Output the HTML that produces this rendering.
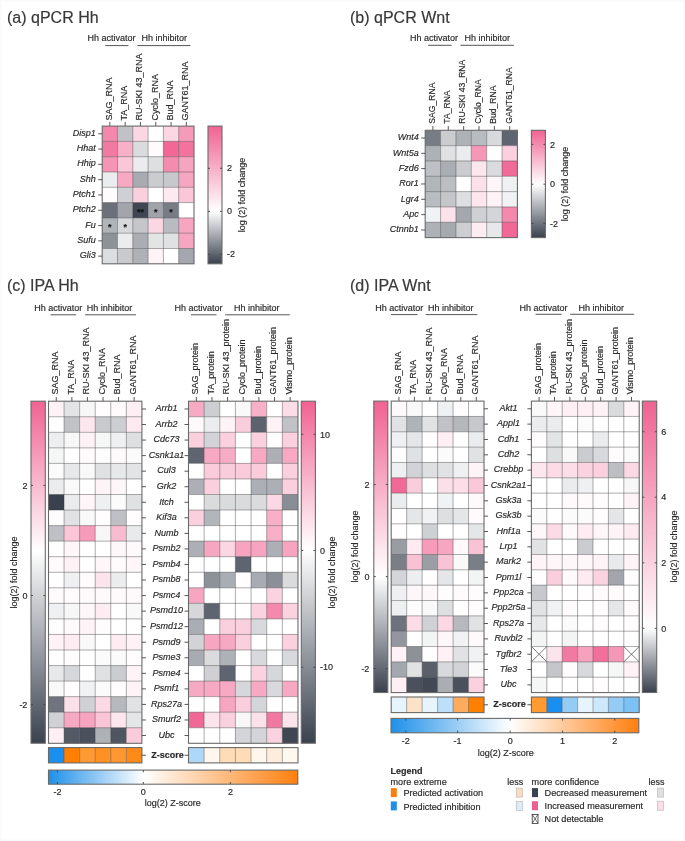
<!DOCTYPE html><html><head><meta charset="utf-8"><title>Figure</title><style>html,body{margin:0;padding:0;background:#fff;}svg{display:block;will-change:transform;}</style></head><body><svg width="685" height="841" viewBox="0 0 685 841" font-family="Liberation Sans, sans-serif" fill="#2b2b2b">
<rect x="0" y="0" width="685" height="841" fill="#ffffff"/>
<text x="7.00" y="23.00" font-size="16" fill="#383838" stroke="#383838" stroke-width="0.18">(a) qPCR Hh</text>
<text x="350.00" y="23.00" font-size="16" fill="#383838" stroke="#383838" stroke-width="0.18">(b) qPCR Wnt</text>
<text x="7.00" y="291.00" font-size="16" fill="#383838" stroke="#383838" stroke-width="0.18">(c) IPA Hh</text>
<text x="350.00" y="291.00" font-size="16" fill="#383838" stroke="#383838" stroke-width="0.18">(d) IPA Wnt</text>
<text x="87.40" y="41.40" font-size="9" stroke="#2b2b2b" stroke-width="0.18">Hh activator</text>
<text x="141.40" y="41.40" font-size="9" stroke="#2b2b2b" stroke-width="0.18">Hh inhibitor</text>
<line x1="105.30" y1="45.60" x2="128.50" y2="45.60" stroke="#555" stroke-width="1"/>
<line x1="137.30" y1="45.60" x2="190.40" y2="45.60" stroke="#555" stroke-width="1"/>
<line x1="109.85" y1="121.90" x2="109.85" y2="126.10" stroke="#444" stroke-width="0.9"/>
<text transform="translate(111.65,120.50) rotate(-90)" font-size="9" stroke="#2b2b2b" stroke-width="0.18">SAG_RNA</text>
<line x1="125.15" y1="121.90" x2="125.15" y2="126.10" stroke="#444" stroke-width="0.9"/>
<text transform="translate(126.95,120.50) rotate(-90)" font-size="9" stroke="#2b2b2b" stroke-width="0.18">TA_RNA</text>
<line x1="140.45" y1="121.90" x2="140.45" y2="126.10" stroke="#444" stroke-width="0.9"/>
<text transform="translate(142.25,120.50) rotate(-90)" font-size="9" stroke="#2b2b2b" stroke-width="0.18">RU-SKI 43_RNA</text>
<line x1="155.75" y1="121.90" x2="155.75" y2="126.10" stroke="#444" stroke-width="0.9"/>
<text transform="translate(157.55,120.50) rotate(-90)" font-size="9" stroke="#2b2b2b" stroke-width="0.18">Cyclo_RNA</text>
<line x1="171.05" y1="121.90" x2="171.05" y2="126.10" stroke="#444" stroke-width="0.9"/>
<text transform="translate(172.85,120.50) rotate(-90)" font-size="9" stroke="#2b2b2b" stroke-width="0.18">Bud_RNA</text>
<line x1="186.35" y1="121.90" x2="186.35" y2="126.10" stroke="#444" stroke-width="0.9"/>
<text transform="translate(188.15,120.50) rotate(-90)" font-size="9" stroke="#2b2b2b" stroke-width="0.18">GANT61_RNA</text>
<rect x="102.20" y="126.10" width="15.35" height="15.35" fill="#f488ac"/>
<rect x="117.50" y="126.10" width="15.35" height="15.35" fill="#c0c2c6"/>
<rect x="132.80" y="126.10" width="15.35" height="15.35" fill="#fbd6e3"/>
<rect x="148.10" y="126.10" width="15.35" height="15.35" fill="#ffffff"/>
<rect x="163.40" y="126.10" width="15.35" height="15.35" fill="#fbd6e3"/>
<rect x="178.70" y="126.10" width="15.35" height="15.35" fill="#f59bb9"/>
<rect x="102.20" y="141.40" width="15.35" height="15.35" fill="#f27aa2"/>
<rect x="117.50" y="141.40" width="15.35" height="15.35" fill="#f8b0c8"/>
<rect x="132.80" y="141.40" width="15.35" height="15.35" fill="#dadbdd"/>
<rect x="148.10" y="141.40" width="15.35" height="15.35" fill="#fffafc"/>
<rect x="163.40" y="141.40" width="15.35" height="15.35" fill="#f16896"/>
<rect x="178.70" y="141.40" width="15.35" height="15.35" fill="#f2739e"/>
<rect x="102.20" y="156.70" width="15.35" height="15.35" fill="#f594b5"/>
<rect x="117.50" y="156.70" width="15.35" height="15.35" fill="#fac6d8"/>
<rect x="132.80" y="156.70" width="15.35" height="15.35" fill="#ebeced"/>
<rect x="148.10" y="156.70" width="15.35" height="15.35" fill="#dedfe1"/>
<rect x="163.40" y="156.70" width="15.35" height="15.35" fill="#f48caf"/>
<rect x="178.70" y="156.70" width="15.35" height="15.35" fill="#f6a4c0"/>
<rect x="102.20" y="172.00" width="15.35" height="15.35" fill="#ebeced"/>
<rect x="117.50" y="172.00" width="15.35" height="15.35" fill="#f7a9c3"/>
<rect x="132.80" y="172.00" width="15.35" height="15.35" fill="#a8abb1"/>
<rect x="148.10" y="172.00" width="15.35" height="15.35" fill="#cacccf"/>
<rect x="163.40" y="172.00" width="15.35" height="15.35" fill="#c6c8cc"/>
<rect x="178.70" y="172.00" width="15.35" height="15.35" fill="#f6a6c1"/>
<rect x="102.20" y="187.30" width="15.35" height="15.35" fill="#fffcfd"/>
<rect x="117.50" y="187.30" width="15.35" height="15.35" fill="#ced0d3"/>
<rect x="132.80" y="187.30" width="15.35" height="15.35" fill="#fad0de"/>
<rect x="148.10" y="187.30" width="15.35" height="15.35" fill="#ffffff"/>
<rect x="163.40" y="187.30" width="15.35" height="15.35" fill="#fde9f0"/>
<rect x="178.70" y="187.30" width="15.35" height="15.35" fill="#fac6d8"/>
<rect x="102.20" y="202.60" width="15.35" height="15.35" fill="#6b707a"/>
<rect x="117.50" y="202.60" width="15.35" height="15.35" fill="#a2a6ac"/>
<rect x="132.80" y="202.60" width="15.35" height="15.35" fill="#404753"/>
<rect x="148.10" y="202.60" width="15.35" height="15.35" fill="#a0a4aa"/>
<rect x="163.40" y="202.60" width="15.35" height="15.35" fill="#777c85"/>
<rect x="178.70" y="202.60" width="15.35" height="15.35" fill="#ffffff"/>
<rect x="102.20" y="217.90" width="15.35" height="15.35" fill="#b0b3b8"/>
<rect x="117.50" y="217.90" width="15.35" height="15.35" fill="#d8d9dc"/>
<rect x="132.80" y="217.90" width="15.35" height="15.35" fill="#c4c6ca"/>
<rect x="148.10" y="217.90" width="15.35" height="15.35" fill="#fbd6e3"/>
<rect x="163.40" y="217.90" width="15.35" height="15.35" fill="#b8bbbf"/>
<rect x="178.70" y="217.90" width="15.35" height="15.35" fill="#f6a6c1"/>
<rect x="102.20" y="233.20" width="15.35" height="15.35" fill="#8d9198"/>
<rect x="117.50" y="233.20" width="15.35" height="15.35" fill="#ebeced"/>
<rect x="132.80" y="233.20" width="15.35" height="15.35" fill="#aaadb3"/>
<rect x="148.10" y="233.20" width="15.35" height="15.35" fill="#e3e4e6"/>
<rect x="163.40" y="233.20" width="15.35" height="15.35" fill="#dfe1e3"/>
<rect x="178.70" y="233.20" width="15.35" height="15.35" fill="#f6a6c1"/>
<rect x="102.20" y="248.50" width="15.35" height="15.35" fill="#dcdddf"/>
<rect x="117.50" y="248.50" width="15.35" height="15.35" fill="#c8cacd"/>
<rect x="132.80" y="248.50" width="15.35" height="15.35" fill="#aeb1b6"/>
<rect x="148.10" y="248.50" width="15.35" height="15.35" fill="#fef4f7"/>
<rect x="163.40" y="248.50" width="15.35" height="15.35" fill="#ffffff"/>
<rect x="178.70" y="248.50" width="15.35" height="15.35" fill="#a4a8ae"/>
<line x1="117.50" y1="126.10" x2="117.50" y2="263.80" stroke="rgba(60,60,60,0.42)" stroke-width="1"/>
<line x1="132.80" y1="126.10" x2="132.80" y2="263.80" stroke="rgba(60,60,60,0.42)" stroke-width="1"/>
<line x1="148.10" y1="126.10" x2="148.10" y2="263.80" stroke="rgba(60,60,60,0.42)" stroke-width="1"/>
<line x1="163.40" y1="126.10" x2="163.40" y2="263.80" stroke="rgba(60,60,60,0.42)" stroke-width="1"/>
<line x1="178.70" y1="126.10" x2="178.70" y2="263.80" stroke="rgba(60,60,60,0.42)" stroke-width="1"/>
<line x1="102.20" y1="141.40" x2="194.00" y2="141.40" stroke="rgba(60,60,60,0.42)" stroke-width="1"/>
<line x1="102.20" y1="156.70" x2="194.00" y2="156.70" stroke="rgba(60,60,60,0.42)" stroke-width="1"/>
<line x1="102.20" y1="172.00" x2="194.00" y2="172.00" stroke="rgba(60,60,60,0.42)" stroke-width="1"/>
<line x1="102.20" y1="187.30" x2="194.00" y2="187.30" stroke="rgba(60,60,60,0.42)" stroke-width="1"/>
<line x1="102.20" y1="202.60" x2="194.00" y2="202.60" stroke="rgba(60,60,60,0.42)" stroke-width="1"/>
<line x1="102.20" y1="217.90" x2="194.00" y2="217.90" stroke="rgba(60,60,60,0.42)" stroke-width="1"/>
<line x1="102.20" y1="233.20" x2="194.00" y2="233.20" stroke="rgba(60,60,60,0.42)" stroke-width="1"/>
<line x1="102.20" y1="248.50" x2="194.00" y2="248.50" stroke="rgba(60,60,60,0.42)" stroke-width="1"/>
<text x="140.45" y="214.75" font-size="9" text-anchor="middle" font-weight="bold" fill="#111" stroke="#111" stroke-width="0.18">**</text>
<text x="155.75" y="214.75" font-size="9" text-anchor="middle" font-weight="bold" fill="#111" stroke="#111" stroke-width="0.18">*</text>
<text x="171.05" y="214.75" font-size="9" text-anchor="middle" font-weight="bold" fill="#111" stroke="#111" stroke-width="0.18">*</text>
<text x="109.85" y="230.05" font-size="9" text-anchor="middle" font-weight="bold" fill="#111" stroke="#111" stroke-width="0.18">*</text>
<text x="125.15" y="230.05" font-size="9" text-anchor="middle" font-weight="bold" fill="#111" stroke="#111" stroke-width="0.18">*</text>
<rect x="102.20" y="126.10" width="91.80" height="137.70" fill="none" stroke="#6a6a6a" stroke-width="1.1"/>
<line x1="98.20" y1="133.75" x2="102.20" y2="133.75" stroke="#444" stroke-width="0.9"/>
<line x1="98.20" y1="149.05" x2="102.20" y2="149.05" stroke="#444" stroke-width="0.9"/>
<line x1="98.20" y1="164.35" x2="102.20" y2="164.35" stroke="#444" stroke-width="0.9"/>
<line x1="98.20" y1="179.65" x2="102.20" y2="179.65" stroke="#444" stroke-width="0.9"/>
<line x1="98.20" y1="194.95" x2="102.20" y2="194.95" stroke="#444" stroke-width="0.9"/>
<line x1="98.20" y1="210.25" x2="102.20" y2="210.25" stroke="#444" stroke-width="0.9"/>
<line x1="98.20" y1="225.55" x2="102.20" y2="225.55" stroke="#444" stroke-width="0.9"/>
<line x1="98.20" y1="240.85" x2="102.20" y2="240.85" stroke="#444" stroke-width="0.9"/>
<line x1="98.20" y1="256.15" x2="102.20" y2="256.15" stroke="#444" stroke-width="0.9"/>
<text x="95.70" y="135.75" font-size="9" text-anchor="end" font-style="italic" stroke="#2b2b2b" stroke-width="0.18">Disp1</text>
<text x="95.70" y="151.05" font-size="9" text-anchor="end" font-style="italic" stroke="#2b2b2b" stroke-width="0.18">Hhat</text>
<text x="95.70" y="166.35" font-size="9" text-anchor="end" font-style="italic" stroke="#2b2b2b" stroke-width="0.18">Hhip</text>
<text x="95.70" y="181.65" font-size="9" text-anchor="end" font-style="italic" stroke="#2b2b2b" stroke-width="0.18">Shh</text>
<text x="95.70" y="196.95" font-size="9" text-anchor="end" font-style="italic" stroke="#2b2b2b" stroke-width="0.18">Ptch1</text>
<text x="95.70" y="212.25" font-size="9" text-anchor="end" font-style="italic" stroke="#2b2b2b" stroke-width="0.18">Ptch2</text>
<text x="95.70" y="227.55" font-size="9" text-anchor="end" font-style="italic" stroke="#2b2b2b" stroke-width="0.18">Fu</text>
<text x="95.70" y="242.85" font-size="9" text-anchor="end" font-style="italic" stroke="#2b2b2b" stroke-width="0.18">Sufu</text>
<text x="95.70" y="258.15" font-size="9" text-anchor="end" font-style="italic" stroke="#2b2b2b" stroke-width="0.18">Gli3</text>
<defs><linearGradient id="g1" x1="0" y1="0" x2="0" y2="1"><stop offset="0" stop-color="#f06292"/><stop offset="0.6200" stop-color="#ffffff"/><stop offset="1" stop-color="#3a414e"/></linearGradient></defs>
<rect x="208.00" y="126.10" width="14.00" height="137.70" fill="url(#g1)" stroke="#6a6a6a" stroke-width="1.1"/>
<line x1="208.00" y1="168.30" x2="210.00" y2="168.30" stroke="#444" stroke-width="0.9"/>
<line x1="220.00" y1="168.30" x2="222.00" y2="168.30" stroke="#444" stroke-width="0.9"/>
<line x1="208.00" y1="211.40" x2="210.00" y2="211.40" stroke="#444" stroke-width="0.9"/>
<line x1="220.00" y1="211.40" x2="222.00" y2="211.40" stroke="#444" stroke-width="0.9"/>
<line x1="208.00" y1="254.40" x2="210.00" y2="254.40" stroke="#444" stroke-width="0.9"/>
<line x1="220.00" y1="254.40" x2="222.00" y2="254.40" stroke="#444" stroke-width="0.9"/>
<text x="227.00" y="171.30" font-size="9" stroke="#2b2b2b" stroke-width="0.18">2</text>
<text x="227.00" y="214.40" font-size="9" stroke="#2b2b2b" stroke-width="0.18">0</text>
<text x="227.00" y="257.40" font-size="9" stroke="#2b2b2b" stroke-width="0.18">-2</text>
<text transform="translate(244.60,195.00) rotate(-90)" font-size="9" text-anchor="middle" stroke="#2b2b2b" stroke-width="0.18">log (2) fold change</text>
<text x="409.90" y="41.00" font-size="9" stroke="#2b2b2b" stroke-width="0.18">Hh activator</text>
<text x="464.50" y="41.00" font-size="9" stroke="#2b2b2b" stroke-width="0.18">Hh inhibitor</text>
<line x1="428.10" y1="45.30" x2="451.60" y2="45.30" stroke="#555" stroke-width="1"/>
<line x1="460.40" y1="45.30" x2="513.90" y2="45.30" stroke="#555" stroke-width="1"/>
<line x1="432.88" y1="126.10" x2="432.88" y2="130.30" stroke="#444" stroke-width="0.9"/>
<text transform="translate(434.69,123.70) rotate(-90)" font-size="8.6" stroke="#2b2b2b" stroke-width="0.18">SAG_RNA</text>
<line x1="448.25" y1="126.10" x2="448.25" y2="130.30" stroke="#444" stroke-width="0.9"/>
<text transform="translate(450.06,123.70) rotate(-90)" font-size="8.6" stroke="#2b2b2b" stroke-width="0.18">TA_RNA</text>
<line x1="463.62" y1="126.10" x2="463.62" y2="130.30" stroke="#444" stroke-width="0.9"/>
<text transform="translate(465.43,123.70) rotate(-90)" font-size="8.6" stroke="#2b2b2b" stroke-width="0.18">RU-SKI 43_RNA</text>
<line x1="479.00" y1="126.10" x2="479.00" y2="130.30" stroke="#444" stroke-width="0.9"/>
<text transform="translate(480.80,123.70) rotate(-90)" font-size="8.6" stroke="#2b2b2b" stroke-width="0.18">Cyclo_RNA</text>
<line x1="494.37" y1="126.10" x2="494.37" y2="130.30" stroke="#444" stroke-width="0.9"/>
<text transform="translate(496.17,123.70) rotate(-90)" font-size="8.6" stroke="#2b2b2b" stroke-width="0.18">Bud_RNA</text>
<line x1="509.74" y1="126.10" x2="509.74" y2="130.30" stroke="#444" stroke-width="0.9"/>
<text transform="translate(511.54,123.70) rotate(-90)" font-size="8.6" stroke="#2b2b2b" stroke-width="0.18">GANT61_RNA</text>
<rect x="425.20" y="130.30" width="15.42" height="15.38" fill="#777c85"/>
<rect x="440.57" y="130.30" width="15.42" height="15.38" fill="#cacccf"/>
<rect x="455.94" y="130.30" width="15.42" height="15.38" fill="#aeb1b6"/>
<rect x="471.31" y="130.30" width="15.42" height="15.38" fill="#b8bbbf"/>
<rect x="486.68" y="130.30" width="15.42" height="15.38" fill="#d8d9dc"/>
<rect x="502.05" y="130.30" width="15.42" height="15.38" fill="#5f6570"/>
<rect x="425.20" y="145.63" width="15.42" height="15.38" fill="#aeb1b6"/>
<rect x="440.57" y="145.63" width="15.42" height="15.38" fill="#dfe1e3"/>
<rect x="455.94" y="145.63" width="15.42" height="15.38" fill="#ebeced"/>
<rect x="471.31" y="145.63" width="15.42" height="15.38" fill="#f597b7"/>
<rect x="486.68" y="145.63" width="15.42" height="15.38" fill="#ffffff"/>
<rect x="502.05" y="145.63" width="15.42" height="15.38" fill="#fad0de"/>
<rect x="425.20" y="160.96" width="15.42" height="15.38" fill="#bec0c5"/>
<rect x="440.57" y="160.96" width="15.42" height="15.38" fill="#aaadb3"/>
<rect x="455.94" y="160.96" width="15.42" height="15.38" fill="#cacccf"/>
<rect x="471.31" y="160.96" width="15.42" height="15.38" fill="#fde7ef"/>
<rect x="486.68" y="160.96" width="15.42" height="15.38" fill="#dadbdd"/>
<rect x="502.05" y="160.96" width="15.42" height="15.38" fill="#f16b99"/>
<rect x="425.20" y="176.29" width="15.42" height="15.38" fill="#b2b5ba"/>
<rect x="440.57" y="176.29" width="15.42" height="15.38" fill="#bcbec3"/>
<rect x="455.94" y="176.29" width="15.42" height="15.38" fill="#ffffff"/>
<rect x="471.31" y="176.29" width="15.42" height="15.38" fill="#fce1ea"/>
<rect x="486.68" y="176.29" width="15.42" height="15.38" fill="#fef7fa"/>
<rect x="502.05" y="176.29" width="15.42" height="15.38" fill="#eff0f1"/>
<rect x="425.20" y="191.62" width="15.42" height="15.38" fill="#b8bbbf"/>
<rect x="440.57" y="191.62" width="15.42" height="15.38" fill="#c4c6ca"/>
<rect x="455.94" y="191.62" width="15.42" height="15.38" fill="#dedfe1"/>
<rect x="471.31" y="191.62" width="15.42" height="15.38" fill="#fde6ee"/>
<rect x="486.68" y="191.62" width="15.42" height="15.38" fill="#fef4f7"/>
<rect x="502.05" y="191.62" width="15.42" height="15.38" fill="#f1f2f3"/>
<rect x="425.20" y="206.95" width="15.42" height="15.38" fill="#f1f2f3"/>
<rect x="440.57" y="206.95" width="15.42" height="15.38" fill="#fce3eb"/>
<rect x="455.94" y="206.95" width="15.42" height="15.38" fill="#a4a8ae"/>
<rect x="471.31" y="206.95" width="15.42" height="15.38" fill="#ced0d3"/>
<rect x="486.68" y="206.95" width="15.42" height="15.38" fill="#d4d5d8"/>
<rect x="502.05" y="206.95" width="15.42" height="15.38" fill="#f489ad"/>
<rect x="425.20" y="222.28" width="15.42" height="15.38" fill="#aeb1b6"/>
<rect x="440.57" y="222.28" width="15.42" height="15.38" fill="#a6aaaf"/>
<rect x="455.94" y="222.28" width="15.42" height="15.38" fill="#ccced1"/>
<rect x="471.31" y="222.28" width="15.42" height="15.38" fill="#fdecf2"/>
<rect x="486.68" y="222.28" width="15.42" height="15.38" fill="#e7e8ea"/>
<rect x="502.05" y="222.28" width="15.42" height="15.38" fill="#f16896"/>
<line x1="440.57" y1="130.30" x2="440.57" y2="237.61" stroke="rgba(60,60,60,0.42)" stroke-width="1"/>
<line x1="455.94" y1="130.30" x2="455.94" y2="237.61" stroke="rgba(60,60,60,0.42)" stroke-width="1"/>
<line x1="471.31" y1="130.30" x2="471.31" y2="237.61" stroke="rgba(60,60,60,0.42)" stroke-width="1"/>
<line x1="486.68" y1="130.30" x2="486.68" y2="237.61" stroke="rgba(60,60,60,0.42)" stroke-width="1"/>
<line x1="502.05" y1="130.30" x2="502.05" y2="237.61" stroke="rgba(60,60,60,0.42)" stroke-width="1"/>
<line x1="425.20" y1="145.63" x2="517.42" y2="145.63" stroke="rgba(60,60,60,0.42)" stroke-width="1"/>
<line x1="425.20" y1="160.96" x2="517.42" y2="160.96" stroke="rgba(60,60,60,0.42)" stroke-width="1"/>
<line x1="425.20" y1="176.29" x2="517.42" y2="176.29" stroke="rgba(60,60,60,0.42)" stroke-width="1"/>
<line x1="425.20" y1="191.62" x2="517.42" y2="191.62" stroke="rgba(60,60,60,0.42)" stroke-width="1"/>
<line x1="425.20" y1="206.95" x2="517.42" y2="206.95" stroke="rgba(60,60,60,0.42)" stroke-width="1"/>
<line x1="425.20" y1="222.28" x2="517.42" y2="222.28" stroke="rgba(60,60,60,0.42)" stroke-width="1"/>
<rect x="425.20" y="130.30" width="92.22" height="107.31" fill="none" stroke="#6a6a6a" stroke-width="1.1"/>
<line x1="421.20" y1="137.97" x2="425.20" y2="137.97" stroke="#444" stroke-width="0.9"/>
<line x1="421.20" y1="153.30" x2="425.20" y2="153.30" stroke="#444" stroke-width="0.9"/>
<line x1="421.20" y1="168.62" x2="425.20" y2="168.62" stroke="#444" stroke-width="0.9"/>
<line x1="421.20" y1="183.96" x2="425.20" y2="183.96" stroke="#444" stroke-width="0.9"/>
<line x1="421.20" y1="199.29" x2="425.20" y2="199.29" stroke="#444" stroke-width="0.9"/>
<line x1="421.20" y1="214.62" x2="425.20" y2="214.62" stroke="#444" stroke-width="0.9"/>
<line x1="421.20" y1="229.94" x2="425.20" y2="229.94" stroke="#444" stroke-width="0.9"/>
<text x="418.70" y="140.37" font-size="9" text-anchor="end" font-style="italic" stroke="#2b2b2b" stroke-width="0.18">Wnt4</text>
<text x="418.70" y="155.70" font-size="9" text-anchor="end" font-style="italic" stroke="#2b2b2b" stroke-width="0.18">Wnt5a</text>
<text x="418.70" y="171.03" font-size="9" text-anchor="end" font-style="italic" stroke="#2b2b2b" stroke-width="0.18">Fzd6</text>
<text x="418.70" y="186.36" font-size="9" text-anchor="end" font-style="italic" stroke="#2b2b2b" stroke-width="0.18">Ror1</text>
<text x="418.70" y="201.69" font-size="9" text-anchor="end" font-style="italic" stroke="#2b2b2b" stroke-width="0.18">Lgr4</text>
<text x="418.70" y="217.02" font-size="9" text-anchor="end" font-style="italic" stroke="#2b2b2b" stroke-width="0.18">Apc</text>
<text x="418.70" y="232.34" font-size="9" text-anchor="end" font-style="italic" stroke="#2b2b2b" stroke-width="0.18">Ctnnb1</text>
<defs><linearGradient id="g2" x1="0" y1="0" x2="0" y2="1"><stop offset="0" stop-color="#f06292"/><stop offset="0.5042" stop-color="#ffffff"/><stop offset="1" stop-color="#3a414e"/></linearGradient></defs>
<rect x="531.40" y="130.30" width="14.00" height="107.30" fill="url(#g2)" stroke="#6a6a6a" stroke-width="1.1"/>
<line x1="531.40" y1="144.40" x2="533.40" y2="144.40" stroke="#444" stroke-width="0.9"/>
<line x1="543.40" y1="144.40" x2="545.40" y2="144.40" stroke="#444" stroke-width="0.9"/>
<line x1="531.40" y1="184.20" x2="533.40" y2="184.20" stroke="#444" stroke-width="0.9"/>
<line x1="543.40" y1="184.20" x2="545.40" y2="184.20" stroke="#444" stroke-width="0.9"/>
<line x1="531.40" y1="223.40" x2="533.40" y2="223.40" stroke="#444" stroke-width="0.9"/>
<line x1="543.40" y1="223.40" x2="545.40" y2="223.40" stroke="#444" stroke-width="0.9"/>
<text x="550.10" y="147.80" font-size="9" stroke="#2b2b2b" stroke-width="0.18">2</text>
<text x="550.10" y="187.30" font-size="9" stroke="#2b2b2b" stroke-width="0.18">0</text>
<text x="550.10" y="226.60" font-size="9" stroke="#2b2b2b" stroke-width="0.18">-2</text>
<text transform="translate(568.00,184.00) rotate(-90)" font-size="9" text-anchor="middle" stroke="#2b2b2b" stroke-width="0.18">log (2) fold change</text>
<text x="34.20" y="310.70" font-size="9" stroke="#2b2b2b" stroke-width="0.18">Hh activator</text>
<text x="86.80" y="310.70" font-size="9" stroke="#2b2b2b" stroke-width="0.18">Hh inhibitor</text>
<line x1="50.60" y1="314.80" x2="76.20" y2="314.80" stroke="#555" stroke-width="1"/>
<line x1="85.10" y1="314.80" x2="136.00" y2="314.80" stroke="#555" stroke-width="1"/>
<text x="174.50" y="310.70" font-size="9" stroke="#2b2b2b" stroke-width="0.18">Hh activator</text>
<text x="234.00" y="310.70" font-size="9" stroke="#2b2b2b" stroke-width="0.18">Hh inhibitor</text>
<line x1="191.00" y1="314.80" x2="216.50" y2="314.80" stroke="#555" stroke-width="1"/>
<line x1="225.30" y1="314.80" x2="289.80" y2="314.80" stroke="#555" stroke-width="1"/>
<line x1="56.28" y1="397.00" x2="56.28" y2="401.20" stroke="#444" stroke-width="0.9"/>
<text transform="translate(58.08,394.60) rotate(-90)" font-size="9" stroke="#2b2b2b" stroke-width="0.18">SAG_RNA</text>
<line x1="71.86" y1="397.00" x2="71.86" y2="401.20" stroke="#444" stroke-width="0.9"/>
<text transform="translate(73.66,394.60) rotate(-90)" font-size="9" stroke="#2b2b2b" stroke-width="0.18">TA_RNA</text>
<line x1="87.42" y1="397.00" x2="87.42" y2="401.20" stroke="#444" stroke-width="0.9"/>
<text transform="translate(89.22,394.60) rotate(-90)" font-size="9" stroke="#2b2b2b" stroke-width="0.18">RU-SKI 43_RNA</text>
<line x1="103.00" y1="397.00" x2="103.00" y2="401.20" stroke="#444" stroke-width="0.9"/>
<text transform="translate(104.80,394.60) rotate(-90)" font-size="9" stroke="#2b2b2b" stroke-width="0.18">Cyclo_RNA</text>
<line x1="118.56" y1="397.00" x2="118.56" y2="401.20" stroke="#444" stroke-width="0.9"/>
<text transform="translate(120.36,394.60) rotate(-90)" font-size="9" stroke="#2b2b2b" stroke-width="0.18">Bud_RNA</text>
<line x1="134.13" y1="397.00" x2="134.13" y2="401.20" stroke="#444" stroke-width="0.9"/>
<text transform="translate(135.94,394.60) rotate(-90)" font-size="9" stroke="#2b2b2b" stroke-width="0.18">GANT61_RNA</text>
<line x1="196.32" y1="397.00" x2="196.32" y2="401.20" stroke="#444" stroke-width="0.9"/>
<text transform="translate(198.12,394.60) rotate(-90)" font-size="9" stroke="#2b2b2b" stroke-width="0.18">SAG_protein</text>
<line x1="211.96" y1="397.00" x2="211.96" y2="401.20" stroke="#444" stroke-width="0.9"/>
<text transform="translate(213.76,394.60) rotate(-90)" font-size="9" stroke="#2b2b2b" stroke-width="0.18">TA_protein</text>
<line x1="227.60" y1="397.00" x2="227.60" y2="401.20" stroke="#444" stroke-width="0.9"/>
<text transform="translate(229.40,394.60) rotate(-90)" font-size="9" stroke="#2b2b2b" stroke-width="0.18">RU-SKI 43_protein</text>
<line x1="243.24" y1="397.00" x2="243.24" y2="401.20" stroke="#444" stroke-width="0.9"/>
<text transform="translate(245.04,394.60) rotate(-90)" font-size="9" stroke="#2b2b2b" stroke-width="0.18">Cyclo_protein</text>
<line x1="258.88" y1="397.00" x2="258.88" y2="401.20" stroke="#444" stroke-width="0.9"/>
<text transform="translate(260.68,394.60) rotate(-90)" font-size="9" stroke="#2b2b2b" stroke-width="0.18">Bud_protein</text>
<line x1="274.52" y1="397.00" x2="274.52" y2="401.20" stroke="#444" stroke-width="0.9"/>
<text transform="translate(276.32,394.60) rotate(-90)" font-size="9" stroke="#2b2b2b" stroke-width="0.18">GANT61_protein</text>
<line x1="290.16" y1="397.00" x2="290.16" y2="401.20" stroke="#444" stroke-width="0.9"/>
<text transform="translate(291.96,394.60) rotate(-90)" font-size="9" stroke="#2b2b2b" stroke-width="0.18">Vismo_protein</text>
<rect x="48.50" y="401.20" width="15.62" height="15.60" fill="#fef2f6"/>
<rect x="64.07" y="401.20" width="15.62" height="15.60" fill="#e3e4e6"/>
<rect x="79.64" y="401.20" width="15.62" height="15.60" fill="#f7f7f8"/>
<rect x="95.21" y="401.20" width="15.62" height="15.60" fill="#fffdfe"/>
<rect x="110.78" y="401.20" width="15.62" height="15.60" fill="#fef9fb"/>
<rect x="126.35" y="401.20" width="15.62" height="15.60" fill="#feeff4"/>
<rect x="48.50" y="416.75" width="15.62" height="15.60" fill="#ffffff"/>
<rect x="64.07" y="416.75" width="15.62" height="15.60" fill="#c0c2c6"/>
<rect x="79.64" y="416.75" width="15.62" height="15.60" fill="#fde7ef"/>
<rect x="95.21" y="416.75" width="15.62" height="15.60" fill="#c8cacd"/>
<rect x="110.78" y="416.75" width="15.62" height="15.60" fill="#ccced1"/>
<rect x="126.35" y="416.75" width="15.62" height="15.60" fill="#fde9f0"/>
<rect x="48.50" y="432.30" width="15.62" height="15.60" fill="#edeeef"/>
<rect x="64.07" y="432.30" width="15.62" height="15.60" fill="#f7f7f8"/>
<rect x="79.64" y="432.30" width="15.62" height="15.60" fill="#fef2f6"/>
<rect x="95.21" y="432.30" width="15.62" height="15.60" fill="#f5f6f6"/>
<rect x="110.78" y="432.30" width="15.62" height="15.60" fill="#eff0f1"/>
<rect x="126.35" y="432.30" width="15.62" height="15.60" fill="#dedfe1"/>
<rect x="48.50" y="447.85" width="15.62" height="15.60" fill="#f5f6f6"/>
<rect x="64.07" y="447.85" width="15.62" height="15.60" fill="#ffffff"/>
<rect x="79.64" y="447.85" width="15.62" height="15.60" fill="#fffafc"/>
<rect x="95.21" y="447.85" width="15.62" height="15.60" fill="#fdfdfd"/>
<rect x="110.78" y="447.85" width="15.62" height="15.60" fill="#fef9fb"/>
<rect x="126.35" y="447.85" width="15.62" height="15.60" fill="#fbfbfb"/>
<rect x="48.50" y="463.40" width="15.62" height="15.60" fill="#fbfbfb"/>
<rect x="64.07" y="463.40" width="15.62" height="15.60" fill="#e7e8ea"/>
<rect x="79.64" y="463.40" width="15.62" height="15.60" fill="#f9f9fa"/>
<rect x="95.21" y="463.40" width="15.62" height="15.60" fill="#dfe1e3"/>
<rect x="110.78" y="463.40" width="15.62" height="15.60" fill="#e7e8ea"/>
<rect x="126.35" y="463.40" width="15.62" height="15.60" fill="#e3e4e6"/>
<rect x="48.50" y="478.95" width="15.62" height="15.60" fill="#ebeced"/>
<rect x="64.07" y="478.95" width="15.62" height="15.60" fill="#f9f9fa"/>
<rect x="79.64" y="478.95" width="15.62" height="15.60" fill="#ffffff"/>
<rect x="95.21" y="478.95" width="15.62" height="15.60" fill="#fef4f7"/>
<rect x="110.78" y="478.95" width="15.62" height="15.60" fill="#fef7fa"/>
<rect x="126.35" y="478.95" width="15.62" height="15.60" fill="#ffffff"/>
<rect x="48.50" y="494.50" width="15.62" height="15.60" fill="#3a414e"/>
<rect x="64.07" y="494.50" width="15.62" height="15.60" fill="#ebeced"/>
<rect x="79.64" y="494.50" width="15.62" height="15.60" fill="#fef6f8"/>
<rect x="95.21" y="494.50" width="15.62" height="15.60" fill="#eff0f1"/>
<rect x="110.78" y="494.50" width="15.62" height="15.60" fill="#fbfbfb"/>
<rect x="126.35" y="494.50" width="15.62" height="15.60" fill="#dfe1e3"/>
<rect x="48.50" y="510.05" width="15.62" height="15.60" fill="#fffdfe"/>
<rect x="64.07" y="510.05" width="15.62" height="15.60" fill="#e1e2e4"/>
<rect x="79.64" y="510.05" width="15.62" height="15.60" fill="#f9f9fa"/>
<rect x="95.21" y="510.05" width="15.62" height="15.60" fill="#fffdfe"/>
<rect x="110.78" y="510.05" width="15.62" height="15.60" fill="#bec0c5"/>
<rect x="126.35" y="510.05" width="15.62" height="15.60" fill="#fffdfe"/>
<rect x="48.50" y="525.60" width="15.62" height="15.60" fill="#bec0c5"/>
<rect x="64.07" y="525.60" width="15.62" height="15.60" fill="#fac6d8"/>
<rect x="79.64" y="525.60" width="15.62" height="15.60" fill="#f69cba"/>
<rect x="95.21" y="525.60" width="15.62" height="15.60" fill="#f7f7f8"/>
<rect x="110.78" y="525.60" width="15.62" height="15.60" fill="#f9bbd0"/>
<rect x="126.35" y="525.60" width="15.62" height="15.60" fill="#e9eaec"/>
<rect x="48.50" y="541.15" width="15.62" height="15.60" fill="#ffffff"/>
<rect x="64.07" y="541.15" width="15.62" height="15.60" fill="#fef6f8"/>
<rect x="79.64" y="541.15" width="15.62" height="15.60" fill="#ffffff"/>
<rect x="95.21" y="541.15" width="15.62" height="15.60" fill="#ffffff"/>
<rect x="110.78" y="541.15" width="15.62" height="15.60" fill="#fef7fa"/>
<rect x="126.35" y="541.15" width="15.62" height="15.60" fill="#fef9fb"/>
<rect x="48.50" y="556.70" width="15.62" height="15.60" fill="#fffafc"/>
<rect x="64.07" y="556.70" width="15.62" height="15.60" fill="#fef1f5"/>
<rect x="79.64" y="556.70" width="15.62" height="15.60" fill="#ffffff"/>
<rect x="95.21" y="556.70" width="15.62" height="15.60" fill="#fef6f8"/>
<rect x="110.78" y="556.70" width="15.62" height="15.60" fill="#fffafc"/>
<rect x="126.35" y="556.70" width="15.62" height="15.60" fill="#fef6f8"/>
<rect x="48.50" y="572.25" width="15.62" height="15.60" fill="#ffffff"/>
<rect x="64.07" y="572.25" width="15.62" height="15.60" fill="#eff0f1"/>
<rect x="79.64" y="572.25" width="15.62" height="15.60" fill="#fffafc"/>
<rect x="95.21" y="572.25" width="15.62" height="15.60" fill="#fce4ec"/>
<rect x="110.78" y="572.25" width="15.62" height="15.60" fill="#ebeced"/>
<rect x="126.35" y="572.25" width="15.62" height="15.60" fill="#ffffff"/>
<rect x="48.50" y="587.80" width="15.62" height="15.60" fill="#fffafc"/>
<rect x="64.07" y="587.80" width="15.62" height="15.60" fill="#fffafc"/>
<rect x="79.64" y="587.80" width="15.62" height="15.60" fill="#fef9fb"/>
<rect x="95.21" y="587.80" width="15.62" height="15.60" fill="#fef9fb"/>
<rect x="110.78" y="587.80" width="15.62" height="15.60" fill="#fef9fb"/>
<rect x="126.35" y="587.80" width="15.62" height="15.60" fill="#fef9fb"/>
<rect x="48.50" y="603.35" width="15.62" height="15.60" fill="#eff0f1"/>
<rect x="64.07" y="603.35" width="15.62" height="15.60" fill="#f7f7f8"/>
<rect x="79.64" y="603.35" width="15.62" height="15.60" fill="#fef7fa"/>
<rect x="95.21" y="603.35" width="15.62" height="15.60" fill="#fdecf2"/>
<rect x="110.78" y="603.35" width="15.62" height="15.60" fill="#ffffff"/>
<rect x="126.35" y="603.35" width="15.62" height="15.60" fill="#f9f9fa"/>
<rect x="48.50" y="618.90" width="15.62" height="15.60" fill="#fdfdfd"/>
<rect x="64.07" y="618.90" width="15.62" height="15.60" fill="#fef9fb"/>
<rect x="79.64" y="618.90" width="15.62" height="15.60" fill="#fef4f7"/>
<rect x="95.21" y="618.90" width="15.62" height="15.60" fill="#fffcfd"/>
<rect x="110.78" y="618.90" width="15.62" height="15.60" fill="#ffffff"/>
<rect x="126.35" y="618.90" width="15.62" height="15.60" fill="#ffffff"/>
<rect x="48.50" y="634.45" width="15.62" height="15.60" fill="#fef2f6"/>
<rect x="64.07" y="634.45" width="15.62" height="15.60" fill="#fdecf2"/>
<rect x="79.64" y="634.45" width="15.62" height="15.60" fill="#f9f9fa"/>
<rect x="95.21" y="634.45" width="15.62" height="15.60" fill="#ffffff"/>
<rect x="110.78" y="634.45" width="15.62" height="15.60" fill="#fdecf2"/>
<rect x="126.35" y="634.45" width="15.62" height="15.60" fill="#fef2f6"/>
<rect x="48.50" y="650.00" width="15.62" height="15.60" fill="#ffffff"/>
<rect x="64.07" y="650.00" width="15.62" height="15.60" fill="#fffcfd"/>
<rect x="79.64" y="650.00" width="15.62" height="15.60" fill="#ffffff"/>
<rect x="95.21" y="650.00" width="15.62" height="15.60" fill="#fbfbfb"/>
<rect x="110.78" y="650.00" width="15.62" height="15.60" fill="#fbfbfb"/>
<rect x="126.35" y="650.00" width="15.62" height="15.60" fill="#fffdfe"/>
<rect x="48.50" y="665.55" width="15.62" height="15.60" fill="#e7e8ea"/>
<rect x="64.07" y="665.55" width="15.62" height="15.60" fill="#d6d7da"/>
<rect x="79.64" y="665.55" width="15.62" height="15.60" fill="#ffffff"/>
<rect x="95.21" y="665.55" width="15.62" height="15.60" fill="#dfe1e3"/>
<rect x="110.78" y="665.55" width="15.62" height="15.60" fill="#cacccf"/>
<rect x="126.35" y="665.55" width="15.62" height="15.60" fill="#fef4f7"/>
<rect x="48.50" y="681.10" width="15.62" height="15.60" fill="#f9f9fa"/>
<rect x="64.07" y="681.10" width="15.62" height="15.60" fill="#fffdfe"/>
<rect x="79.64" y="681.10" width="15.62" height="15.60" fill="#f1f2f3"/>
<rect x="95.21" y="681.10" width="15.62" height="15.60" fill="#fbfbfb"/>
<rect x="110.78" y="681.10" width="15.62" height="15.60" fill="#fffdfe"/>
<rect x="126.35" y="681.10" width="15.62" height="15.60" fill="#fef4f7"/>
<rect x="48.50" y="696.65" width="15.62" height="15.60" fill="#6f747e"/>
<rect x="64.07" y="696.65" width="15.62" height="15.60" fill="#fce0e9"/>
<rect x="79.64" y="696.65" width="15.62" height="15.60" fill="#d0d1d5"/>
<rect x="95.21" y="696.65" width="15.62" height="15.60" fill="#fbd9e5"/>
<rect x="110.78" y="696.65" width="15.62" height="15.60" fill="#b6b9be"/>
<rect x="126.35" y="696.65" width="15.62" height="15.60" fill="#e1e2e4"/>
<rect x="48.50" y="712.20" width="15.62" height="15.60" fill="#d0d1d5"/>
<rect x="64.07" y="712.20" width="15.62" height="15.60" fill="#f7a9c3"/>
<rect x="79.64" y="712.20" width="15.62" height="15.60" fill="#f6a4c0"/>
<rect x="95.21" y="712.20" width="15.62" height="15.60" fill="#f9c5d7"/>
<rect x="110.78" y="712.20" width="15.62" height="15.60" fill="#fde6ee"/>
<rect x="126.35" y="712.20" width="15.62" height="15.60" fill="#e5e6e8"/>
<rect x="48.50" y="727.75" width="15.62" height="15.60" fill="#feeff4"/>
<rect x="64.07" y="727.75" width="15.62" height="15.60" fill="#545a65"/>
<rect x="79.64" y="727.75" width="15.62" height="15.60" fill="#4a505c"/>
<rect x="95.21" y="727.75" width="15.62" height="15.60" fill="#aeb1b6"/>
<rect x="110.78" y="727.75" width="15.62" height="15.60" fill="#505661"/>
<rect x="126.35" y="727.75" width="15.62" height="15.60" fill="#facbdb"/>
<line x1="64.07" y1="401.20" x2="64.07" y2="743.30" stroke="rgba(60,60,60,0.42)" stroke-width="1"/>
<line x1="79.64" y1="401.20" x2="79.64" y2="743.30" stroke="rgba(60,60,60,0.42)" stroke-width="1"/>
<line x1="95.21" y1="401.20" x2="95.21" y2="743.30" stroke="rgba(60,60,60,0.42)" stroke-width="1"/>
<line x1="110.78" y1="401.20" x2="110.78" y2="743.30" stroke="rgba(60,60,60,0.42)" stroke-width="1"/>
<line x1="126.35" y1="401.20" x2="126.35" y2="743.30" stroke="rgba(60,60,60,0.42)" stroke-width="1"/>
<line x1="48.50" y1="416.75" x2="141.92" y2="416.75" stroke="rgba(60,60,60,0.42)" stroke-width="1"/>
<line x1="48.50" y1="432.30" x2="141.92" y2="432.30" stroke="rgba(60,60,60,0.42)" stroke-width="1"/>
<line x1="48.50" y1="447.85" x2="141.92" y2="447.85" stroke="rgba(60,60,60,0.42)" stroke-width="1"/>
<line x1="48.50" y1="463.40" x2="141.92" y2="463.40" stroke="rgba(60,60,60,0.42)" stroke-width="1"/>
<line x1="48.50" y1="478.95" x2="141.92" y2="478.95" stroke="rgba(60,60,60,0.42)" stroke-width="1"/>
<line x1="48.50" y1="494.50" x2="141.92" y2="494.50" stroke="rgba(60,60,60,0.42)" stroke-width="1"/>
<line x1="48.50" y1="510.05" x2="141.92" y2="510.05" stroke="rgba(60,60,60,0.42)" stroke-width="1"/>
<line x1="48.50" y1="525.60" x2="141.92" y2="525.60" stroke="rgba(60,60,60,0.42)" stroke-width="1"/>
<line x1="48.50" y1="541.15" x2="141.92" y2="541.15" stroke="rgba(60,60,60,0.42)" stroke-width="1"/>
<line x1="48.50" y1="556.70" x2="141.92" y2="556.70" stroke="rgba(60,60,60,0.42)" stroke-width="1"/>
<line x1="48.50" y1="572.25" x2="141.92" y2="572.25" stroke="rgba(60,60,60,0.42)" stroke-width="1"/>
<line x1="48.50" y1="587.80" x2="141.92" y2="587.80" stroke="rgba(60,60,60,0.42)" stroke-width="1"/>
<line x1="48.50" y1="603.35" x2="141.92" y2="603.35" stroke="rgba(60,60,60,0.42)" stroke-width="1"/>
<line x1="48.50" y1="618.90" x2="141.92" y2="618.90" stroke="rgba(60,60,60,0.42)" stroke-width="1"/>
<line x1="48.50" y1="634.45" x2="141.92" y2="634.45" stroke="rgba(60,60,60,0.42)" stroke-width="1"/>
<line x1="48.50" y1="650.00" x2="141.92" y2="650.00" stroke="rgba(60,60,60,0.42)" stroke-width="1"/>
<line x1="48.50" y1="665.55" x2="141.92" y2="665.55" stroke="rgba(60,60,60,0.42)" stroke-width="1"/>
<line x1="48.50" y1="681.10" x2="141.92" y2="681.10" stroke="rgba(60,60,60,0.42)" stroke-width="1"/>
<line x1="48.50" y1="696.65" x2="141.92" y2="696.65" stroke="rgba(60,60,60,0.42)" stroke-width="1"/>
<line x1="48.50" y1="712.20" x2="141.92" y2="712.20" stroke="rgba(60,60,60,0.42)" stroke-width="1"/>
<line x1="48.50" y1="727.75" x2="141.92" y2="727.75" stroke="rgba(60,60,60,0.42)" stroke-width="1"/>
<rect x="48.50" y="401.20" width="93.42" height="342.10" fill="none" stroke="#6a6a6a" stroke-width="1.1"/>
<rect x="188.50" y="401.20" width="15.69" height="15.60" fill="#f7aac4"/>
<rect x="204.14" y="401.20" width="15.69" height="15.60" fill="#ccced1"/>
<rect x="219.78" y="401.20" width="15.69" height="15.60" fill="#ffffff"/>
<rect x="235.42" y="401.20" width="15.69" height="15.60" fill="#f9f9fa"/>
<rect x="251.06" y="401.20" width="15.69" height="15.60" fill="#f8b0c8"/>
<rect x="266.70" y="401.20" width="15.69" height="15.60" fill="#ffffff"/>
<rect x="282.34" y="401.20" width="15.69" height="15.60" fill="#fcdce7"/>
<rect x="188.50" y="416.75" width="15.69" height="15.60" fill="#fef9fb"/>
<rect x="204.14" y="416.75" width="15.69" height="15.60" fill="#ebeced"/>
<rect x="219.78" y="416.75" width="15.69" height="15.60" fill="#fef4f7"/>
<rect x="235.42" y="416.75" width="15.69" height="15.60" fill="#facddc"/>
<rect x="251.06" y="416.75" width="15.69" height="15.60" fill="#5d636e"/>
<rect x="266.70" y="416.75" width="15.69" height="15.60" fill="#fef2f6"/>
<rect x="282.34" y="416.75" width="15.69" height="15.60" fill="#c0c2c6"/>
<rect x="188.50" y="432.30" width="15.69" height="15.60" fill="#fad0de"/>
<rect x="204.14" y="432.30" width="15.69" height="15.60" fill="#d2d3d6"/>
<rect x="219.78" y="432.30" width="15.69" height="15.60" fill="#fad0de"/>
<rect x="235.42" y="432.30" width="15.69" height="15.60" fill="#ffffff"/>
<rect x="251.06" y="432.30" width="15.69" height="15.60" fill="#fad0de"/>
<rect x="266.70" y="432.30" width="15.69" height="15.60" fill="#fffdfe"/>
<rect x="282.34" y="432.30" width="15.69" height="15.60" fill="#fad0de"/>
<rect x="188.50" y="447.85" width="15.69" height="15.60" fill="#5f6570"/>
<rect x="204.14" y="447.85" width="15.69" height="15.60" fill="#f7a9c3"/>
<rect x="219.78" y="447.85" width="15.69" height="15.60" fill="#f7acc5"/>
<rect x="235.42" y="447.85" width="15.69" height="15.60" fill="#ffffff"/>
<rect x="251.06" y="447.85" width="15.69" height="15.60" fill="#f7a9c3"/>
<rect x="266.70" y="447.85" width="15.69" height="15.60" fill="#acafb5"/>
<rect x="282.34" y="447.85" width="15.69" height="15.60" fill="#f7a9c3"/>
<rect x="188.50" y="463.40" width="15.69" height="15.60" fill="#ffffff"/>
<rect x="204.14" y="463.40" width="15.69" height="15.60" fill="#facbdb"/>
<rect x="219.78" y="463.40" width="15.69" height="15.60" fill="#facddc"/>
<rect x="235.42" y="463.40" width="15.69" height="15.60" fill="#facbdb"/>
<rect x="251.06" y="463.40" width="15.69" height="15.60" fill="#facbdb"/>
<rect x="266.70" y="463.40" width="15.69" height="15.60" fill="#ffffff"/>
<rect x="282.34" y="463.40" width="15.69" height="15.60" fill="#fad0de"/>
<rect x="188.50" y="478.95" width="15.69" height="15.60" fill="#acafb5"/>
<rect x="204.14" y="478.95" width="15.69" height="15.60" fill="#fad0de"/>
<rect x="219.78" y="478.95" width="15.69" height="15.60" fill="#ffffff"/>
<rect x="235.42" y="478.95" width="15.69" height="15.60" fill="#ffffff"/>
<rect x="251.06" y="478.95" width="15.69" height="15.60" fill="#acafb5"/>
<rect x="266.70" y="478.95" width="15.69" height="15.60" fill="#acafb5"/>
<rect x="282.34" y="478.95" width="15.69" height="15.60" fill="#fad0de"/>
<rect x="188.50" y="494.50" width="15.69" height="15.60" fill="#ffffff"/>
<rect x="204.14" y="494.50" width="15.69" height="15.60" fill="#dadbdd"/>
<rect x="219.78" y="494.50" width="15.69" height="15.60" fill="#dadbdd"/>
<rect x="235.42" y="494.50" width="15.69" height="15.60" fill="#dadbdd"/>
<rect x="251.06" y="494.50" width="15.69" height="15.60" fill="#dadbdd"/>
<rect x="266.70" y="494.50" width="15.69" height="15.60" fill="#fbd8e4"/>
<rect x="282.34" y="494.50" width="15.69" height="15.60" fill="#898d95"/>
<rect x="188.50" y="510.05" width="15.69" height="15.60" fill="#fad0de"/>
<rect x="204.14" y="510.05" width="15.69" height="15.60" fill="#b2b5ba"/>
<rect x="219.78" y="510.05" width="15.69" height="15.60" fill="#ffffff"/>
<rect x="235.42" y="510.05" width="15.69" height="15.60" fill="#ffffff"/>
<rect x="251.06" y="510.05" width="15.69" height="15.60" fill="#ffffff"/>
<rect x="266.70" y="510.05" width="15.69" height="15.60" fill="#f8b0c8"/>
<rect x="282.34" y="510.05" width="15.69" height="15.60" fill="#ffffff"/>
<rect x="188.50" y="525.60" width="15.69" height="15.60" fill="#ffffff"/>
<rect x="204.14" y="525.60" width="15.69" height="15.60" fill="#ffffff"/>
<rect x="219.78" y="525.60" width="15.69" height="15.60" fill="#ffffff"/>
<rect x="235.42" y="525.60" width="15.69" height="15.60" fill="#ffffff"/>
<rect x="251.06" y="525.60" width="15.69" height="15.60" fill="#ffffff"/>
<rect x="266.70" y="525.60" width="15.69" height="15.60" fill="#f8b0c8"/>
<rect x="282.34" y="525.60" width="15.69" height="15.60" fill="#ffffff"/>
<rect x="188.50" y="541.15" width="15.69" height="15.60" fill="#acafb5"/>
<rect x="204.14" y="541.15" width="15.69" height="15.60" fill="#f6a6c1"/>
<rect x="219.78" y="541.15" width="15.69" height="15.60" fill="#fbd6e3"/>
<rect x="235.42" y="541.15" width="15.69" height="15.60" fill="#f6a4c0"/>
<rect x="251.06" y="541.15" width="15.69" height="15.60" fill="#f6a4c0"/>
<rect x="266.70" y="541.15" width="15.69" height="15.60" fill="#acafb5"/>
<rect x="282.34" y="541.15" width="15.69" height="15.60" fill="#f6a4c0"/>
<rect x="188.50" y="556.70" width="15.69" height="15.60" fill="#ffffff"/>
<rect x="204.14" y="556.70" width="15.69" height="15.60" fill="#ffffff"/>
<rect x="219.78" y="556.70" width="15.69" height="15.60" fill="#ffffff"/>
<rect x="235.42" y="556.70" width="15.69" height="15.60" fill="#5f6570"/>
<rect x="251.06" y="556.70" width="15.69" height="15.60" fill="#ffffff"/>
<rect x="266.70" y="556.70" width="15.69" height="15.60" fill="#ffffff"/>
<rect x="282.34" y="556.70" width="15.69" height="15.60" fill="#ffffff"/>
<rect x="188.50" y="572.25" width="15.69" height="15.60" fill="#ffffff"/>
<rect x="204.14" y="572.25" width="15.69" height="15.60" fill="#8d9198"/>
<rect x="219.78" y="572.25" width="15.69" height="15.60" fill="#aaadb3"/>
<rect x="235.42" y="572.25" width="15.69" height="15.60" fill="#fffdfe"/>
<rect x="251.06" y="572.25" width="15.69" height="15.60" fill="#a8abb1"/>
<rect x="266.70" y="572.25" width="15.69" height="15.60" fill="#8b8f97"/>
<rect x="282.34" y="572.25" width="15.69" height="15.60" fill="#dadbdd"/>
<rect x="188.50" y="587.80" width="15.69" height="15.60" fill="#f6a6c1"/>
<rect x="204.14" y="587.80" width="15.69" height="15.60" fill="#ffffff"/>
<rect x="219.78" y="587.80" width="15.69" height="15.60" fill="#ffffff"/>
<rect x="235.42" y="587.80" width="15.69" height="15.60" fill="#ffffff"/>
<rect x="251.06" y="587.80" width="15.69" height="15.60" fill="#ffffff"/>
<rect x="266.70" y="587.80" width="15.69" height="15.60" fill="#fbd3e0"/>
<rect x="282.34" y="587.80" width="15.69" height="15.60" fill="#ffffff"/>
<rect x="188.50" y="603.35" width="15.69" height="15.60" fill="#d6d7da"/>
<rect x="204.14" y="603.35" width="15.69" height="15.60" fill="#5f6570"/>
<rect x="219.78" y="603.35" width="15.69" height="15.60" fill="#ffffff"/>
<rect x="235.42" y="603.35" width="15.69" height="15.60" fill="#ffffff"/>
<rect x="251.06" y="603.35" width="15.69" height="15.60" fill="#fbd3e0"/>
<rect x="266.70" y="603.35" width="15.69" height="15.60" fill="#f489ad"/>
<rect x="282.34" y="603.35" width="15.69" height="15.60" fill="#fbd3e0"/>
<rect x="188.50" y="618.90" width="15.69" height="15.60" fill="#aaadb3"/>
<rect x="204.14" y="618.90" width="15.69" height="15.60" fill="#ffffff"/>
<rect x="219.78" y="618.90" width="15.69" height="15.60" fill="#fad0de"/>
<rect x="235.42" y="618.90" width="15.69" height="15.60" fill="#fad0de"/>
<rect x="251.06" y="618.90" width="15.69" height="15.60" fill="#d8d9dc"/>
<rect x="266.70" y="618.90" width="15.69" height="15.60" fill="#ffffff"/>
<rect x="282.34" y="618.90" width="15.69" height="15.60" fill="#ffffff"/>
<rect x="188.50" y="634.45" width="15.69" height="15.60" fill="#d2d3d6"/>
<rect x="204.14" y="634.45" width="15.69" height="15.60" fill="#f6a6c1"/>
<rect x="219.78" y="634.45" width="15.69" height="15.60" fill="#f7a9c3"/>
<rect x="235.42" y="634.45" width="15.69" height="15.60" fill="#fad0de"/>
<rect x="251.06" y="634.45" width="15.69" height="15.60" fill="#ffffff"/>
<rect x="266.70" y="634.45" width="15.69" height="15.60" fill="#ffffff"/>
<rect x="282.34" y="634.45" width="15.69" height="15.60" fill="#fbd1df"/>
<rect x="188.50" y="650.00" width="15.69" height="15.60" fill="#a8abb1"/>
<rect x="204.14" y="650.00" width="15.69" height="15.60" fill="#dadbdd"/>
<rect x="219.78" y="650.00" width="15.69" height="15.60" fill="#aeb1b6"/>
<rect x="235.42" y="650.00" width="15.69" height="15.60" fill="#ffffff"/>
<rect x="251.06" y="650.00" width="15.69" height="15.60" fill="#d8d9dc"/>
<rect x="266.70" y="650.00" width="15.69" height="15.60" fill="#ffffff"/>
<rect x="282.34" y="650.00" width="15.69" height="15.60" fill="#d8d9dc"/>
<rect x="188.50" y="665.55" width="15.69" height="15.60" fill="#ffffff"/>
<rect x="204.14" y="665.55" width="15.69" height="15.60" fill="#ced0d3"/>
<rect x="219.78" y="665.55" width="15.69" height="15.60" fill="#5f6570"/>
<rect x="235.42" y="665.55" width="15.69" height="15.60" fill="#ffffff"/>
<rect x="251.06" y="665.55" width="15.69" height="15.60" fill="#fbd3e0"/>
<rect x="266.70" y="665.55" width="15.69" height="15.60" fill="#d6d7da"/>
<rect x="282.34" y="665.55" width="15.69" height="15.60" fill="#ffffff"/>
<rect x="188.50" y="681.10" width="15.69" height="15.60" fill="#f7a9c3"/>
<rect x="204.14" y="681.10" width="15.69" height="15.60" fill="#f7a9c3"/>
<rect x="219.78" y="681.10" width="15.69" height="15.60" fill="#f7a9c3"/>
<rect x="235.42" y="681.10" width="15.69" height="15.60" fill="#d6d7da"/>
<rect x="251.06" y="681.10" width="15.69" height="15.60" fill="#f7a9c3"/>
<rect x="266.70" y="681.10" width="15.69" height="15.60" fill="#d8d9dc"/>
<rect x="282.34" y="681.10" width="15.69" height="15.60" fill="#f7a9c3"/>
<rect x="188.50" y="696.65" width="15.69" height="15.60" fill="#ffffff"/>
<rect x="204.14" y="696.65" width="15.69" height="15.60" fill="#ffffff"/>
<rect x="219.78" y="696.65" width="15.69" height="15.60" fill="#f6a6c1"/>
<rect x="235.42" y="696.65" width="15.69" height="15.60" fill="#facedd"/>
<rect x="251.06" y="696.65" width="15.69" height="15.60" fill="#d4d5d8"/>
<rect x="266.70" y="696.65" width="15.69" height="15.60" fill="#ffffff"/>
<rect x="282.34" y="696.65" width="15.69" height="15.60" fill="#ffffff"/>
<rect x="188.50" y="712.20" width="15.69" height="15.60" fill="#f16896"/>
<rect x="204.14" y="712.20" width="15.69" height="15.60" fill="#fce4ec"/>
<rect x="219.78" y="712.20" width="15.69" height="15.60" fill="#fad0de"/>
<rect x="235.42" y="712.20" width="15.69" height="15.60" fill="#f7f7f8"/>
<rect x="251.06" y="712.20" width="15.69" height="15.60" fill="#fce1ea"/>
<rect x="266.70" y="712.20" width="15.69" height="15.60" fill="#f278a1"/>
<rect x="282.34" y="712.20" width="15.69" height="15.60" fill="#fce4ec"/>
<rect x="188.50" y="727.75" width="15.69" height="15.60" fill="#ffffff"/>
<rect x="204.14" y="727.75" width="15.69" height="15.60" fill="#ffffff"/>
<rect x="219.78" y="727.75" width="15.69" height="15.60" fill="#ffffff"/>
<rect x="235.42" y="727.75" width="15.69" height="15.60" fill="#d4d5d8"/>
<rect x="251.06" y="727.75" width="15.69" height="15.60" fill="#d4d5d8"/>
<rect x="266.70" y="727.75" width="15.69" height="15.60" fill="#fbd3e0"/>
<rect x="282.34" y="727.75" width="15.69" height="15.60" fill="#404753"/>
<line x1="204.14" y1="401.20" x2="204.14" y2="743.30" stroke="rgba(60,60,60,0.42)" stroke-width="1"/>
<line x1="219.78" y1="401.20" x2="219.78" y2="743.30" stroke="rgba(60,60,60,0.42)" stroke-width="1"/>
<line x1="235.42" y1="401.20" x2="235.42" y2="743.30" stroke="rgba(60,60,60,0.42)" stroke-width="1"/>
<line x1="251.06" y1="401.20" x2="251.06" y2="743.30" stroke="rgba(60,60,60,0.42)" stroke-width="1"/>
<line x1="266.70" y1="401.20" x2="266.70" y2="743.30" stroke="rgba(60,60,60,0.42)" stroke-width="1"/>
<line x1="282.34" y1="401.20" x2="282.34" y2="743.30" stroke="rgba(60,60,60,0.42)" stroke-width="1"/>
<line x1="188.50" y1="416.75" x2="297.98" y2="416.75" stroke="rgba(60,60,60,0.42)" stroke-width="1"/>
<line x1="188.50" y1="432.30" x2="297.98" y2="432.30" stroke="rgba(60,60,60,0.42)" stroke-width="1"/>
<line x1="188.50" y1="447.85" x2="297.98" y2="447.85" stroke="rgba(60,60,60,0.42)" stroke-width="1"/>
<line x1="188.50" y1="463.40" x2="297.98" y2="463.40" stroke="rgba(60,60,60,0.42)" stroke-width="1"/>
<line x1="188.50" y1="478.95" x2="297.98" y2="478.95" stroke="rgba(60,60,60,0.42)" stroke-width="1"/>
<line x1="188.50" y1="494.50" x2="297.98" y2="494.50" stroke="rgba(60,60,60,0.42)" stroke-width="1"/>
<line x1="188.50" y1="510.05" x2="297.98" y2="510.05" stroke="rgba(60,60,60,0.42)" stroke-width="1"/>
<line x1="188.50" y1="525.60" x2="297.98" y2="525.60" stroke="rgba(60,60,60,0.42)" stroke-width="1"/>
<line x1="188.50" y1="541.15" x2="297.98" y2="541.15" stroke="rgba(60,60,60,0.42)" stroke-width="1"/>
<line x1="188.50" y1="556.70" x2="297.98" y2="556.70" stroke="rgba(60,60,60,0.42)" stroke-width="1"/>
<line x1="188.50" y1="572.25" x2="297.98" y2="572.25" stroke="rgba(60,60,60,0.42)" stroke-width="1"/>
<line x1="188.50" y1="587.80" x2="297.98" y2="587.80" stroke="rgba(60,60,60,0.42)" stroke-width="1"/>
<line x1="188.50" y1="603.35" x2="297.98" y2="603.35" stroke="rgba(60,60,60,0.42)" stroke-width="1"/>
<line x1="188.50" y1="618.90" x2="297.98" y2="618.90" stroke="rgba(60,60,60,0.42)" stroke-width="1"/>
<line x1="188.50" y1="634.45" x2="297.98" y2="634.45" stroke="rgba(60,60,60,0.42)" stroke-width="1"/>
<line x1="188.50" y1="650.00" x2="297.98" y2="650.00" stroke="rgba(60,60,60,0.42)" stroke-width="1"/>
<line x1="188.50" y1="665.55" x2="297.98" y2="665.55" stroke="rgba(60,60,60,0.42)" stroke-width="1"/>
<line x1="188.50" y1="681.10" x2="297.98" y2="681.10" stroke="rgba(60,60,60,0.42)" stroke-width="1"/>
<line x1="188.50" y1="696.65" x2="297.98" y2="696.65" stroke="rgba(60,60,60,0.42)" stroke-width="1"/>
<line x1="188.50" y1="712.20" x2="297.98" y2="712.20" stroke="rgba(60,60,60,0.42)" stroke-width="1"/>
<line x1="188.50" y1="727.75" x2="297.98" y2="727.75" stroke="rgba(60,60,60,0.42)" stroke-width="1"/>
<rect x="188.50" y="401.20" width="109.48" height="342.10" fill="none" stroke="#6a6a6a" stroke-width="1.1"/>
<line x1="141.92" y1="408.97" x2="145.92" y2="408.97" stroke="#444" stroke-width="0.9"/>
<line x1="141.92" y1="424.52" x2="145.92" y2="424.52" stroke="#444" stroke-width="0.9"/>
<line x1="141.92" y1="440.07" x2="145.92" y2="440.07" stroke="#444" stroke-width="0.9"/>
<line x1="141.92" y1="455.62" x2="145.92" y2="455.62" stroke="#444" stroke-width="0.9"/>
<line x1="141.92" y1="471.18" x2="145.92" y2="471.18" stroke="#444" stroke-width="0.9"/>
<line x1="141.92" y1="486.73" x2="145.92" y2="486.73" stroke="#444" stroke-width="0.9"/>
<line x1="141.92" y1="502.27" x2="145.92" y2="502.27" stroke="#444" stroke-width="0.9"/>
<line x1="141.92" y1="517.83" x2="145.92" y2="517.83" stroke="#444" stroke-width="0.9"/>
<line x1="141.92" y1="533.38" x2="145.92" y2="533.38" stroke="#444" stroke-width="0.9"/>
<line x1="141.92" y1="548.92" x2="145.92" y2="548.92" stroke="#444" stroke-width="0.9"/>
<line x1="141.92" y1="564.48" x2="145.92" y2="564.48" stroke="#444" stroke-width="0.9"/>
<line x1="141.92" y1="580.02" x2="145.92" y2="580.02" stroke="#444" stroke-width="0.9"/>
<line x1="141.92" y1="595.58" x2="145.92" y2="595.58" stroke="#444" stroke-width="0.9"/>
<line x1="141.92" y1="611.12" x2="145.92" y2="611.12" stroke="#444" stroke-width="0.9"/>
<line x1="141.92" y1="626.67" x2="145.92" y2="626.67" stroke="#444" stroke-width="0.9"/>
<line x1="141.92" y1="642.23" x2="145.92" y2="642.23" stroke="#444" stroke-width="0.9"/>
<line x1="141.92" y1="657.77" x2="145.92" y2="657.77" stroke="#444" stroke-width="0.9"/>
<line x1="141.92" y1="673.33" x2="145.92" y2="673.33" stroke="#444" stroke-width="0.9"/>
<line x1="141.92" y1="688.88" x2="145.92" y2="688.88" stroke="#444" stroke-width="0.9"/>
<line x1="141.92" y1="704.42" x2="145.92" y2="704.42" stroke="#444" stroke-width="0.9"/>
<line x1="141.92" y1="719.98" x2="145.92" y2="719.98" stroke="#444" stroke-width="0.9"/>
<line x1="141.92" y1="735.52" x2="145.92" y2="735.52" stroke="#444" stroke-width="0.9"/>
<line x1="184.50" y1="408.97" x2="188.50" y2="408.97" stroke="#444" stroke-width="0.9"/>
<line x1="184.50" y1="424.52" x2="188.50" y2="424.52" stroke="#444" stroke-width="0.9"/>
<line x1="184.50" y1="440.07" x2="188.50" y2="440.07" stroke="#444" stroke-width="0.9"/>
<line x1="184.50" y1="455.62" x2="188.50" y2="455.62" stroke="#444" stroke-width="0.9"/>
<line x1="184.50" y1="471.18" x2="188.50" y2="471.18" stroke="#444" stroke-width="0.9"/>
<line x1="184.50" y1="486.73" x2="188.50" y2="486.73" stroke="#444" stroke-width="0.9"/>
<line x1="184.50" y1="502.27" x2="188.50" y2="502.27" stroke="#444" stroke-width="0.9"/>
<line x1="184.50" y1="517.83" x2="188.50" y2="517.83" stroke="#444" stroke-width="0.9"/>
<line x1="184.50" y1="533.38" x2="188.50" y2="533.38" stroke="#444" stroke-width="0.9"/>
<line x1="184.50" y1="548.92" x2="188.50" y2="548.92" stroke="#444" stroke-width="0.9"/>
<line x1="184.50" y1="564.48" x2="188.50" y2="564.48" stroke="#444" stroke-width="0.9"/>
<line x1="184.50" y1="580.02" x2="188.50" y2="580.02" stroke="#444" stroke-width="0.9"/>
<line x1="184.50" y1="595.58" x2="188.50" y2="595.58" stroke="#444" stroke-width="0.9"/>
<line x1="184.50" y1="611.12" x2="188.50" y2="611.12" stroke="#444" stroke-width="0.9"/>
<line x1="184.50" y1="626.67" x2="188.50" y2="626.67" stroke="#444" stroke-width="0.9"/>
<line x1="184.50" y1="642.23" x2="188.50" y2="642.23" stroke="#444" stroke-width="0.9"/>
<line x1="184.50" y1="657.77" x2="188.50" y2="657.77" stroke="#444" stroke-width="0.9"/>
<line x1="184.50" y1="673.33" x2="188.50" y2="673.33" stroke="#444" stroke-width="0.9"/>
<line x1="184.50" y1="688.88" x2="188.50" y2="688.88" stroke="#444" stroke-width="0.9"/>
<line x1="184.50" y1="704.42" x2="188.50" y2="704.42" stroke="#444" stroke-width="0.9"/>
<line x1="184.50" y1="719.98" x2="188.50" y2="719.98" stroke="#444" stroke-width="0.9"/>
<line x1="184.50" y1="735.52" x2="188.50" y2="735.52" stroke="#444" stroke-width="0.9"/>
<text x="166.50" y="411.27" font-size="9" text-anchor="middle" font-style="italic" stroke="#2b2b2b" stroke-width="0.18">Arrb1</text>
<text x="166.50" y="426.82" font-size="9" text-anchor="middle" font-style="italic" stroke="#2b2b2b" stroke-width="0.18">Arrb2</text>
<text x="166.50" y="442.38" font-size="9" text-anchor="middle" font-style="italic" stroke="#2b2b2b" stroke-width="0.18">Cdc73</text>
<text x="166.50" y="457.93" font-size="9" text-anchor="middle" font-style="italic" stroke="#2b2b2b" stroke-width="0.18">Csnk1a1</text>
<text x="166.50" y="473.48" font-size="9" text-anchor="middle" font-style="italic" stroke="#2b2b2b" stroke-width="0.18">Cul3</text>
<text x="166.50" y="489.03" font-size="9" text-anchor="middle" font-style="italic" stroke="#2b2b2b" stroke-width="0.18">Grk2</text>
<text x="166.50" y="504.57" font-size="9" text-anchor="middle" font-style="italic" stroke="#2b2b2b" stroke-width="0.18">Itch</text>
<text x="166.50" y="520.12" font-size="9" text-anchor="middle" font-style="italic" stroke="#2b2b2b" stroke-width="0.18">Kif3a</text>
<text x="166.50" y="535.67" font-size="9" text-anchor="middle" font-style="italic" stroke="#2b2b2b" stroke-width="0.18">Numb</text>
<text x="166.50" y="551.22" font-size="9" text-anchor="middle" font-style="italic" stroke="#2b2b2b" stroke-width="0.18">Psmb2</text>
<text x="166.50" y="566.77" font-size="9" text-anchor="middle" font-style="italic" stroke="#2b2b2b" stroke-width="0.18">Psmb4</text>
<text x="166.50" y="582.32" font-size="9" text-anchor="middle" font-style="italic" stroke="#2b2b2b" stroke-width="0.18">Psmb8</text>
<text x="166.50" y="597.88" font-size="9" text-anchor="middle" font-style="italic" stroke="#2b2b2b" stroke-width="0.18">Psmc4</text>
<text x="166.50" y="613.42" font-size="9" text-anchor="middle" font-style="italic" stroke="#2b2b2b" stroke-width="0.18">Psmd10</text>
<text x="166.50" y="628.97" font-size="9" text-anchor="middle" font-style="italic" stroke="#2b2b2b" stroke-width="0.18">Psmd12</text>
<text x="166.50" y="644.52" font-size="9" text-anchor="middle" font-style="italic" stroke="#2b2b2b" stroke-width="0.18">Psmd9</text>
<text x="166.50" y="660.07" font-size="9" text-anchor="middle" font-style="italic" stroke="#2b2b2b" stroke-width="0.18">Psme3</text>
<text x="166.50" y="675.62" font-size="9" text-anchor="middle" font-style="italic" stroke="#2b2b2b" stroke-width="0.18">Psme4</text>
<text x="166.50" y="691.17" font-size="9" text-anchor="middle" font-style="italic" stroke="#2b2b2b" stroke-width="0.18">Psmf1</text>
<text x="166.50" y="706.72" font-size="9" text-anchor="middle" font-style="italic" stroke="#2b2b2b" stroke-width="0.18">Rps27a</text>
<text x="166.50" y="722.27" font-size="9" text-anchor="middle" font-style="italic" stroke="#2b2b2b" stroke-width="0.18">Smurf2</text>
<text x="166.50" y="737.82" font-size="9" text-anchor="middle" font-style="italic" stroke="#2b2b2b" stroke-width="0.18">Ubc</text>
<rect x="48.50" y="747.60" width="15.62" height="15.35" fill="#1a8fef"/>
<rect x="64.07" y="747.60" width="15.62" height="15.35" fill="#ff7f00"/>
<rect x="79.64" y="747.60" width="15.62" height="15.35" fill="#ff9933"/>
<rect x="95.21" y="747.60" width="15.62" height="15.35" fill="#ff9122"/>
<rect x="110.78" y="747.60" width="15.62" height="15.35" fill="#ff9830"/>
<rect x="126.35" y="747.60" width="15.62" height="15.35" fill="#ff8a17"/>
<line x1="64.07" y1="747.60" x2="64.07" y2="762.90" stroke="rgba(60,60,60,0.42)" stroke-width="1"/>
<line x1="79.64" y1="747.60" x2="79.64" y2="762.90" stroke="rgba(60,60,60,0.42)" stroke-width="1"/>
<line x1="95.21" y1="747.60" x2="95.21" y2="762.90" stroke="rgba(60,60,60,0.42)" stroke-width="1"/>
<line x1="110.78" y1="747.60" x2="110.78" y2="762.90" stroke="rgba(60,60,60,0.42)" stroke-width="1"/>
<line x1="126.35" y1="747.60" x2="126.35" y2="762.90" stroke="rgba(60,60,60,0.42)" stroke-width="1"/>
<rect x="48.50" y="747.60" width="93.42" height="15.30" fill="none" stroke="#6a6a6a" stroke-width="1.1"/>
<rect x="188.50" y="747.60" width="15.69" height="15.35" fill="#aed8f8"/>
<rect x="204.14" y="747.60" width="15.69" height="15.35" fill="#fff7ef"/>
<rect x="219.78" y="747.60" width="15.69" height="15.35" fill="#fedcb8"/>
<rect x="235.42" y="747.60" width="15.69" height="15.35" fill="#fedcb8"/>
<rect x="251.06" y="747.60" width="15.69" height="15.35" fill="#fff7ec"/>
<rect x="266.70" y="747.60" width="15.69" height="15.35" fill="#feeddc"/>
<rect x="282.34" y="747.60" width="15.69" height="15.35" fill="#fff8ee"/>
<line x1="204.14" y1="747.60" x2="204.14" y2="762.90" stroke="rgba(60,60,60,0.42)" stroke-width="1"/>
<line x1="219.78" y1="747.60" x2="219.78" y2="762.90" stroke="rgba(60,60,60,0.42)" stroke-width="1"/>
<line x1="235.42" y1="747.60" x2="235.42" y2="762.90" stroke="rgba(60,60,60,0.42)" stroke-width="1"/>
<line x1="251.06" y1="747.60" x2="251.06" y2="762.90" stroke="rgba(60,60,60,0.42)" stroke-width="1"/>
<line x1="266.70" y1="747.60" x2="266.70" y2="762.90" stroke="rgba(60,60,60,0.42)" stroke-width="1"/>
<line x1="282.34" y1="747.60" x2="282.34" y2="762.90" stroke="rgba(60,60,60,0.42)" stroke-width="1"/>
<rect x="188.50" y="747.60" width="109.48" height="15.30" fill="none" stroke="#6a6a6a" stroke-width="1.1"/>
<line x1="141.92" y1="755.25" x2="145.92" y2="755.25" stroke="#444" stroke-width="0.9"/>
<line x1="184.50" y1="755.25" x2="188.50" y2="755.25" stroke="#444" stroke-width="0.9"/>
<text x="167.50" y="758.45" font-size="9" text-anchor="middle" font-weight="bold" stroke="#2b2b2b" stroke-width="0.18">Z-score</text>
<defs><linearGradient id="g3" x1="0" y1="0" x2="0" y2="1"><stop offset="0" stop-color="#f06292"/><stop offset="0.4370" stop-color="#ffffff"/><stop offset="1" stop-color="#3a414e"/></linearGradient></defs>
<rect x="31.00" y="401.20" width="14.30" height="342.00" fill="url(#g3)" stroke="#6a6a6a" stroke-width="1.1"/>
<line x1="31.00" y1="485.40" x2="33.00" y2="485.40" stroke="#444" stroke-width="0.9"/>
<line x1="43.30" y1="485.40" x2="45.30" y2="485.40" stroke="#444" stroke-width="0.9"/>
<line x1="31.00" y1="595.50" x2="33.00" y2="595.50" stroke="#444" stroke-width="0.9"/>
<line x1="43.30" y1="595.50" x2="45.30" y2="595.50" stroke="#444" stroke-width="0.9"/>
<line x1="31.00" y1="704.60" x2="33.00" y2="704.60" stroke="#444" stroke-width="0.9"/>
<line x1="43.30" y1="704.60" x2="45.30" y2="704.60" stroke="#444" stroke-width="0.9"/>
<text x="27.40" y="488.70" font-size="9" text-anchor="end" stroke="#2b2b2b" stroke-width="0.18">2</text>
<text x="27.40" y="598.60" font-size="9" text-anchor="end" stroke="#2b2b2b" stroke-width="0.18">0</text>
<text x="27.40" y="707.60" font-size="9" text-anchor="end" stroke="#2b2b2b" stroke-width="0.18">-2</text>
<text transform="translate(16.60,572.50) rotate(-90)" font-size="9" text-anchor="middle" stroke="#2b2b2b" stroke-width="0.18">log(2) fold change</text>
<defs><linearGradient id="g4" x1="0" y1="0" x2="0" y2="1"><stop offset="0" stop-color="#f06292"/><stop offset="0.4336" stop-color="#ffffff"/><stop offset="1" stop-color="#3a414e"/></linearGradient></defs>
<rect x="301.30" y="401.20" width="14.10" height="342.00" fill="url(#g4)" stroke="#6a6a6a" stroke-width="1.1"/>
<line x1="301.30" y1="434.30" x2="303.30" y2="434.30" stroke="#444" stroke-width="0.9"/>
<line x1="313.40" y1="434.30" x2="315.40" y2="434.30" stroke="#444" stroke-width="0.9"/>
<line x1="301.30" y1="550.50" x2="303.30" y2="550.50" stroke="#444" stroke-width="0.9"/>
<line x1="313.40" y1="550.50" x2="315.40" y2="550.50" stroke="#444" stroke-width="0.9"/>
<line x1="301.30" y1="667.30" x2="303.30" y2="667.30" stroke="#444" stroke-width="0.9"/>
<line x1="313.40" y1="667.30" x2="315.40" y2="667.30" stroke="#444" stroke-width="0.9"/>
<text x="320.00" y="437.70" font-size="9" stroke="#2b2b2b" stroke-width="0.18">10</text>
<text x="320.00" y="553.70" font-size="9" stroke="#2b2b2b" stroke-width="0.18">0</text>
<text x="320.00" y="670.10" font-size="9" stroke="#2b2b2b" stroke-width="0.18">-10</text>
<text transform="translate(335.20,572.50) rotate(-90)" font-size="9" text-anchor="middle" stroke="#2b2b2b" stroke-width="0.18">log(2) fold change</text>
<defs><linearGradient id="g5" x1="0" y1="0" x2="1" y2="0"><stop offset="0" stop-color="#1e90e8"/><stop offset="0.3803" stop-color="#ffffff"/><stop offset="1" stop-color="#ff7f0e"/></linearGradient></defs>
<rect x="48.50" y="770.10" width="249.30" height="14.10" fill="url(#g5)" stroke="#6a6a6a" stroke-width="1.1"/>
<line x1="57.40" y1="770.10" x2="57.40" y2="772.30" stroke="#444" stroke-width="0.9"/>
<line x1="57.40" y1="782.00" x2="57.40" y2="784.20" stroke="#444" stroke-width="0.9"/>
<text x="57.40" y="795.00" font-size="9" text-anchor="middle" stroke="#2b2b2b" stroke-width="0.18">-2</text>
<line x1="143.30" y1="770.10" x2="143.30" y2="772.30" stroke="#444" stroke-width="0.9"/>
<line x1="143.30" y1="782.00" x2="143.30" y2="784.20" stroke="#444" stroke-width="0.9"/>
<text x="143.30" y="795.00" font-size="9" text-anchor="middle" stroke="#2b2b2b" stroke-width="0.18">0</text>
<line x1="230.40" y1="770.10" x2="230.40" y2="772.30" stroke="#444" stroke-width="0.9"/>
<line x1="230.40" y1="782.00" x2="230.40" y2="784.20" stroke="#444" stroke-width="0.9"/>
<text x="230.40" y="795.00" font-size="9" text-anchor="middle" stroke="#2b2b2b" stroke-width="0.18">2</text>
<text x="172.80" y="805.70" font-size="9" text-anchor="middle" stroke="#2b2b2b" stroke-width="0.18">log(2) Z-score</text>
<text x="375.30" y="310.70" font-size="9" stroke="#2b2b2b" stroke-width="0.18">Hh activator</text>
<text x="427.90" y="310.70" font-size="9" stroke="#2b2b2b" stroke-width="0.18">Hh inhibitor</text>
<line x1="391.00" y1="314.60" x2="417.50" y2="314.60" stroke="#555" stroke-width="1"/>
<line x1="425.70" y1="314.60" x2="477.30" y2="314.60" stroke="#555" stroke-width="1"/>
<text x="519.40" y="310.70" font-size="9" stroke="#2b2b2b" stroke-width="0.18">Hh activator</text>
<text x="578.60" y="310.70" font-size="9" stroke="#2b2b2b" stroke-width="0.18">Hh inhibitor</text>
<line x1="535.60" y1="314.30" x2="561.60" y2="314.30" stroke="#555" stroke-width="1"/>
<line x1="570.20" y1="314.30" x2="634.20" y2="314.30" stroke="#555" stroke-width="1"/>
<line x1="398.94" y1="396.90" x2="398.94" y2="401.10" stroke="#444" stroke-width="0.9"/>
<text transform="translate(400.74,394.50) rotate(-90)" font-size="9" stroke="#2b2b2b" stroke-width="0.18">SAG_RNA</text>
<line x1="414.40" y1="396.90" x2="414.40" y2="401.10" stroke="#444" stroke-width="0.9"/>
<text transform="translate(416.20,394.50) rotate(-90)" font-size="9" stroke="#2b2b2b" stroke-width="0.18">TA_RNA</text>
<line x1="429.88" y1="396.90" x2="429.88" y2="401.10" stroke="#444" stroke-width="0.9"/>
<text transform="translate(431.68,394.50) rotate(-90)" font-size="9" stroke="#2b2b2b" stroke-width="0.18">RU-SKI 43_RNA</text>
<line x1="445.34" y1="396.90" x2="445.34" y2="401.10" stroke="#444" stroke-width="0.9"/>
<text transform="translate(447.14,394.50) rotate(-90)" font-size="9" stroke="#2b2b2b" stroke-width="0.18">Cyclo_RNA</text>
<line x1="460.81" y1="396.90" x2="460.81" y2="401.10" stroke="#444" stroke-width="0.9"/>
<text transform="translate(462.62,394.50) rotate(-90)" font-size="9" stroke="#2b2b2b" stroke-width="0.18">Bud_RNA</text>
<line x1="476.28" y1="396.90" x2="476.28" y2="401.10" stroke="#444" stroke-width="0.9"/>
<text transform="translate(478.08,394.50) rotate(-90)" font-size="9" stroke="#2b2b2b" stroke-width="0.18">GANT61_RNA</text>
<line x1="539.10" y1="396.90" x2="539.10" y2="401.10" stroke="#444" stroke-width="0.9"/>
<text transform="translate(540.90,394.50) rotate(-90)" font-size="9" stroke="#2b2b2b" stroke-width="0.18">SAG_protein</text>
<line x1="554.50" y1="396.90" x2="554.50" y2="401.10" stroke="#444" stroke-width="0.9"/>
<text transform="translate(556.30,394.50) rotate(-90)" font-size="9" stroke="#2b2b2b" stroke-width="0.18">TA_protein</text>
<line x1="569.90" y1="396.90" x2="569.90" y2="401.10" stroke="#444" stroke-width="0.9"/>
<text transform="translate(571.70,394.50) rotate(-90)" font-size="9" stroke="#2b2b2b" stroke-width="0.18">RU-SKI 43_protein</text>
<line x1="585.30" y1="396.90" x2="585.30" y2="401.10" stroke="#444" stroke-width="0.9"/>
<text transform="translate(587.10,394.50) rotate(-90)" font-size="9" stroke="#2b2b2b" stroke-width="0.18">Cyclo_protein</text>
<line x1="600.70" y1="396.90" x2="600.70" y2="401.10" stroke="#444" stroke-width="0.9"/>
<text transform="translate(602.50,394.50) rotate(-90)" font-size="9" stroke="#2b2b2b" stroke-width="0.18">Bud_protein</text>
<line x1="616.10" y1="396.90" x2="616.10" y2="401.10" stroke="#444" stroke-width="0.9"/>
<text transform="translate(617.90,394.50) rotate(-90)" font-size="9" stroke="#2b2b2b" stroke-width="0.18">GANT61_protein</text>
<line x1="631.50" y1="396.90" x2="631.50" y2="401.10" stroke="#444" stroke-width="0.9"/>
<text transform="translate(633.30,394.50) rotate(-90)" font-size="9" stroke="#2b2b2b" stroke-width="0.18">Vismo_protein</text>
<rect x="391.20" y="401.10" width="15.52" height="15.39" fill="#fef9fb"/>
<rect x="406.67" y="401.10" width="15.52" height="15.39" fill="#f9f9fa"/>
<rect x="422.14" y="401.10" width="15.52" height="15.39" fill="#ffffff"/>
<rect x="437.61" y="401.10" width="15.52" height="15.39" fill="#eff0f1"/>
<rect x="453.08" y="401.10" width="15.52" height="15.39" fill="#fffcfd"/>
<rect x="468.55" y="401.10" width="15.52" height="15.39" fill="#ffffff"/>
<rect x="391.20" y="416.44" width="15.52" height="15.39" fill="#e1e2e4"/>
<rect x="406.67" y="416.44" width="15.52" height="15.39" fill="#b0b3b8"/>
<rect x="422.14" y="416.44" width="15.52" height="15.39" fill="#e1e2e4"/>
<rect x="437.61" y="416.44" width="15.52" height="15.39" fill="#c0c2c6"/>
<rect x="453.08" y="416.44" width="15.52" height="15.39" fill="#b4b7bc"/>
<rect x="468.55" y="416.44" width="15.52" height="15.39" fill="#c6c8cc"/>
<rect x="391.20" y="431.78" width="15.52" height="15.39" fill="#eff0f1"/>
<rect x="406.67" y="431.78" width="15.52" height="15.39" fill="#e5e6e8"/>
<rect x="422.14" y="431.78" width="15.52" height="15.39" fill="#fffdfe"/>
<rect x="437.61" y="431.78" width="15.52" height="15.39" fill="#feeff4"/>
<rect x="453.08" y="431.78" width="15.52" height="15.39" fill="#ffffff"/>
<rect x="468.55" y="431.78" width="15.52" height="15.39" fill="#ebeced"/>
<rect x="391.20" y="447.12" width="15.52" height="15.39" fill="#fdfdfd"/>
<rect x="406.67" y="447.12" width="15.52" height="15.39" fill="#dfe1e3"/>
<rect x="422.14" y="447.12" width="15.52" height="15.39" fill="#ffffff"/>
<rect x="437.61" y="447.12" width="15.52" height="15.39" fill="#fbfbfb"/>
<rect x="453.08" y="447.12" width="15.52" height="15.39" fill="#ffffff"/>
<rect x="468.55" y="447.12" width="15.52" height="15.39" fill="#e1e2e4"/>
<rect x="391.20" y="462.46" width="15.52" height="15.39" fill="#eff0f1"/>
<rect x="406.67" y="462.46" width="15.52" height="15.39" fill="#d2d3d6"/>
<rect x="422.14" y="462.46" width="15.52" height="15.39" fill="#dedfe1"/>
<rect x="437.61" y="462.46" width="15.52" height="15.39" fill="#e1e2e4"/>
<rect x="453.08" y="462.46" width="15.52" height="15.39" fill="#eff0f1"/>
<rect x="468.55" y="462.46" width="15.52" height="15.39" fill="#fef4f7"/>
<rect x="391.20" y="477.80" width="15.52" height="15.39" fill="#f16a97"/>
<rect x="406.67" y="477.80" width="15.52" height="15.39" fill="#facddc"/>
<rect x="422.14" y="477.80" width="15.52" height="15.39" fill="#ffffff"/>
<rect x="437.61" y="477.80" width="15.52" height="15.39" fill="#fce0e9"/>
<rect x="453.08" y="477.80" width="15.52" height="15.39" fill="#fcdee8"/>
<rect x="468.55" y="477.80" width="15.52" height="15.39" fill="#fac8d9"/>
<rect x="391.20" y="493.14" width="15.52" height="15.39" fill="#ebeced"/>
<rect x="406.67" y="493.14" width="15.52" height="15.39" fill="#ffffff"/>
<rect x="422.14" y="493.14" width="15.52" height="15.39" fill="#ffffff"/>
<rect x="437.61" y="493.14" width="15.52" height="15.39" fill="#f1f2f3"/>
<rect x="453.08" y="493.14" width="15.52" height="15.39" fill="#ffffff"/>
<rect x="468.55" y="493.14" width="15.52" height="15.39" fill="#fef9fb"/>
<rect x="391.20" y="508.48" width="15.52" height="15.39" fill="#ffffff"/>
<rect x="406.67" y="508.48" width="15.52" height="15.39" fill="#e5e6e8"/>
<rect x="422.14" y="508.48" width="15.52" height="15.39" fill="#f1f2f3"/>
<rect x="437.61" y="508.48" width="15.52" height="15.39" fill="#dedfe1"/>
<rect x="453.08" y="508.48" width="15.52" height="15.39" fill="#e5e6e8"/>
<rect x="468.55" y="508.48" width="15.52" height="15.39" fill="#fffafc"/>
<rect x="391.20" y="523.82" width="15.52" height="15.39" fill="#fffdfe"/>
<rect x="406.67" y="523.82" width="15.52" height="15.39" fill="#ffffff"/>
<rect x="422.14" y="523.82" width="15.52" height="15.39" fill="#ced0d3"/>
<rect x="437.61" y="523.82" width="15.52" height="15.39" fill="#ffffff"/>
<rect x="453.08" y="523.82" width="15.52" height="15.39" fill="#ffffff"/>
<rect x="468.55" y="523.82" width="15.52" height="15.39" fill="#e5e6e8"/>
<rect x="391.20" y="539.16" width="15.52" height="15.39" fill="#999ca3"/>
<rect x="406.67" y="539.16" width="15.52" height="15.39" fill="#fdebf1"/>
<rect x="422.14" y="539.16" width="15.52" height="15.39" fill="#f69cba"/>
<rect x="437.61" y="539.16" width="15.52" height="15.39" fill="#f6a6c1"/>
<rect x="453.08" y="539.16" width="15.52" height="15.39" fill="#fef9fb"/>
<rect x="468.55" y="539.16" width="15.52" height="15.39" fill="#f9c3d6"/>
<rect x="391.20" y="554.50" width="15.52" height="15.39" fill="#797e87"/>
<rect x="406.67" y="554.50" width="15.52" height="15.39" fill="#f9c2d4"/>
<rect x="422.14" y="554.50" width="15.52" height="15.39" fill="#9b9ea5"/>
<rect x="437.61" y="554.50" width="15.52" height="15.39" fill="#f9c3d6"/>
<rect x="453.08" y="554.50" width="15.52" height="15.39" fill="#f9f9fa"/>
<rect x="468.55" y="554.50" width="15.52" height="15.39" fill="#797e87"/>
<rect x="391.20" y="569.84" width="15.52" height="15.39" fill="#d4d5d8"/>
<rect x="406.67" y="569.84" width="15.52" height="15.39" fill="#edeeef"/>
<rect x="422.14" y="569.84" width="15.52" height="15.39" fill="#fffdfe"/>
<rect x="437.61" y="569.84" width="15.52" height="15.39" fill="#e5e6e8"/>
<rect x="453.08" y="569.84" width="15.52" height="15.39" fill="#ffffff"/>
<rect x="468.55" y="569.84" width="15.52" height="15.39" fill="#f3f4f4"/>
<rect x="391.20" y="585.18" width="15.52" height="15.39" fill="#eff0f1"/>
<rect x="406.67" y="585.18" width="15.52" height="15.39" fill="#fef7fa"/>
<rect x="422.14" y="585.18" width="15.52" height="15.39" fill="#fef7fa"/>
<rect x="437.61" y="585.18" width="15.52" height="15.39" fill="#fffcfd"/>
<rect x="453.08" y="585.18" width="15.52" height="15.39" fill="#fffafc"/>
<rect x="468.55" y="585.18" width="15.52" height="15.39" fill="#fffcfd"/>
<rect x="391.20" y="600.52" width="15.52" height="15.39" fill="#eff0f1"/>
<rect x="406.67" y="600.52" width="15.52" height="15.39" fill="#fdfdfd"/>
<rect x="422.14" y="600.52" width="15.52" height="15.39" fill="#f9f9fa"/>
<rect x="437.61" y="600.52" width="15.52" height="15.39" fill="#dedfe1"/>
<rect x="453.08" y="600.52" width="15.52" height="15.39" fill="#ffffff"/>
<rect x="468.55" y="600.52" width="15.52" height="15.39" fill="#fffcfd"/>
<rect x="391.20" y="615.86" width="15.52" height="15.39" fill="#6d727c"/>
<rect x="406.67" y="615.86" width="15.52" height="15.39" fill="#fcdce7"/>
<rect x="422.14" y="615.86" width="15.52" height="15.39" fill="#d0d1d5"/>
<rect x="437.61" y="615.86" width="15.52" height="15.39" fill="#fbd8e4"/>
<rect x="453.08" y="615.86" width="15.52" height="15.39" fill="#b6b9be"/>
<rect x="468.55" y="615.86" width="15.52" height="15.39" fill="#e1e2e4"/>
<rect x="391.20" y="631.20" width="15.52" height="15.39" fill="#93969e"/>
<rect x="406.67" y="631.20" width="15.52" height="15.39" fill="#ffffff"/>
<rect x="422.14" y="631.20" width="15.52" height="15.39" fill="#f3f4f4"/>
<rect x="437.61" y="631.20" width="15.52" height="15.39" fill="#fef7fa"/>
<rect x="453.08" y="631.20" width="15.52" height="15.39" fill="#f1f2f3"/>
<rect x="468.55" y="631.20" width="15.52" height="15.39" fill="#fef9fb"/>
<rect x="391.20" y="646.54" width="15.52" height="15.39" fill="#fef2f6"/>
<rect x="406.67" y="646.54" width="15.52" height="15.39" fill="#8d9198"/>
<rect x="422.14" y="646.54" width="15.52" height="15.39" fill="#fffdfe"/>
<rect x="437.61" y="646.54" width="15.52" height="15.39" fill="#fef2f6"/>
<rect x="453.08" y="646.54" width="15.52" height="15.39" fill="#e1e2e4"/>
<rect x="468.55" y="646.54" width="15.52" height="15.39" fill="#f1f2f3"/>
<rect x="391.20" y="661.88" width="15.52" height="15.39" fill="#a4a8ae"/>
<rect x="406.67" y="661.88" width="15.52" height="15.39" fill="#e1e2e4"/>
<rect x="422.14" y="661.88" width="15.52" height="15.39" fill="#5a5f6a"/>
<rect x="437.61" y="661.88" width="15.52" height="15.39" fill="#d8d9dc"/>
<rect x="453.08" y="661.88" width="15.52" height="15.39" fill="#d2d3d6"/>
<rect x="468.55" y="661.88" width="15.52" height="15.39" fill="#fbfbfb"/>
<rect x="391.20" y="677.22" width="15.52" height="15.39" fill="#feeff4"/>
<rect x="406.67" y="677.22" width="15.52" height="15.39" fill="#4a505c"/>
<rect x="422.14" y="677.22" width="15.52" height="15.39" fill="#424955"/>
<rect x="437.61" y="677.22" width="15.52" height="15.39" fill="#aaadb3"/>
<rect x="453.08" y="677.22" width="15.52" height="15.39" fill="#4a505c"/>
<rect x="468.55" y="677.22" width="15.52" height="15.39" fill="#fbd1df"/>
<line x1="406.67" y1="401.10" x2="406.67" y2="692.56" stroke="rgba(60,60,60,0.42)" stroke-width="1"/>
<line x1="422.14" y1="401.10" x2="422.14" y2="692.56" stroke="rgba(60,60,60,0.42)" stroke-width="1"/>
<line x1="437.61" y1="401.10" x2="437.61" y2="692.56" stroke="rgba(60,60,60,0.42)" stroke-width="1"/>
<line x1="453.08" y1="401.10" x2="453.08" y2="692.56" stroke="rgba(60,60,60,0.42)" stroke-width="1"/>
<line x1="468.55" y1="401.10" x2="468.55" y2="692.56" stroke="rgba(60,60,60,0.42)" stroke-width="1"/>
<line x1="391.20" y1="416.44" x2="484.02" y2="416.44" stroke="rgba(60,60,60,0.42)" stroke-width="1"/>
<line x1="391.20" y1="431.78" x2="484.02" y2="431.78" stroke="rgba(60,60,60,0.42)" stroke-width="1"/>
<line x1="391.20" y1="447.12" x2="484.02" y2="447.12" stroke="rgba(60,60,60,0.42)" stroke-width="1"/>
<line x1="391.20" y1="462.46" x2="484.02" y2="462.46" stroke="rgba(60,60,60,0.42)" stroke-width="1"/>
<line x1="391.20" y1="477.80" x2="484.02" y2="477.80" stroke="rgba(60,60,60,0.42)" stroke-width="1"/>
<line x1="391.20" y1="493.14" x2="484.02" y2="493.14" stroke="rgba(60,60,60,0.42)" stroke-width="1"/>
<line x1="391.20" y1="508.48" x2="484.02" y2="508.48" stroke="rgba(60,60,60,0.42)" stroke-width="1"/>
<line x1="391.20" y1="523.82" x2="484.02" y2="523.82" stroke="rgba(60,60,60,0.42)" stroke-width="1"/>
<line x1="391.20" y1="539.16" x2="484.02" y2="539.16" stroke="rgba(60,60,60,0.42)" stroke-width="1"/>
<line x1="391.20" y1="554.50" x2="484.02" y2="554.50" stroke="rgba(60,60,60,0.42)" stroke-width="1"/>
<line x1="391.20" y1="569.84" x2="484.02" y2="569.84" stroke="rgba(60,60,60,0.42)" stroke-width="1"/>
<line x1="391.20" y1="585.18" x2="484.02" y2="585.18" stroke="rgba(60,60,60,0.42)" stroke-width="1"/>
<line x1="391.20" y1="600.52" x2="484.02" y2="600.52" stroke="rgba(60,60,60,0.42)" stroke-width="1"/>
<line x1="391.20" y1="615.86" x2="484.02" y2="615.86" stroke="rgba(60,60,60,0.42)" stroke-width="1"/>
<line x1="391.20" y1="631.20" x2="484.02" y2="631.20" stroke="rgba(60,60,60,0.42)" stroke-width="1"/>
<line x1="391.20" y1="646.54" x2="484.02" y2="646.54" stroke="rgba(60,60,60,0.42)" stroke-width="1"/>
<line x1="391.20" y1="661.88" x2="484.02" y2="661.88" stroke="rgba(60,60,60,0.42)" stroke-width="1"/>
<line x1="391.20" y1="677.22" x2="484.02" y2="677.22" stroke="rgba(60,60,60,0.42)" stroke-width="1"/>
<rect x="391.20" y="401.10" width="92.82" height="291.46" fill="none" stroke="#6a6a6a" stroke-width="1.1"/>
<rect x="531.40" y="401.10" width="15.45" height="15.39" fill="#f9f9fa"/>
<rect x="546.80" y="401.10" width="15.45" height="15.39" fill="#fef6f8"/>
<rect x="562.20" y="401.10" width="15.45" height="15.39" fill="#feeff4"/>
<rect x="577.60" y="401.10" width="15.45" height="15.39" fill="#feeff4"/>
<rect x="593.00" y="401.10" width="15.45" height="15.39" fill="#fef2f6"/>
<rect x="608.40" y="401.10" width="15.45" height="15.39" fill="#dadbdd"/>
<rect x="623.80" y="401.10" width="15.45" height="15.39" fill="#fef4f7"/>
<rect x="531.40" y="416.44" width="15.45" height="15.39" fill="#ebeced"/>
<rect x="546.80" y="416.44" width="15.45" height="15.39" fill="#ebeced"/>
<rect x="562.20" y="416.44" width="15.45" height="15.39" fill="#ffffff"/>
<rect x="577.60" y="416.44" width="15.45" height="15.39" fill="#fbfbfb"/>
<rect x="593.00" y="416.44" width="15.45" height="15.39" fill="#ffffff"/>
<rect x="608.40" y="416.44" width="15.45" height="15.39" fill="#ffffff"/>
<rect x="623.80" y="416.44" width="15.45" height="15.39" fill="#ffffff"/>
<rect x="531.40" y="431.78" width="15.45" height="15.39" fill="#fffcfd"/>
<rect x="546.80" y="431.78" width="15.45" height="15.39" fill="#e3e4e6"/>
<rect x="562.20" y="431.78" width="15.45" height="15.39" fill="#ffffff"/>
<rect x="577.60" y="431.78" width="15.45" height="15.39" fill="#ffffff"/>
<rect x="593.00" y="431.78" width="15.45" height="15.39" fill="#ebeced"/>
<rect x="608.40" y="431.78" width="15.45" height="15.39" fill="#ffffff"/>
<rect x="623.80" y="431.78" width="15.45" height="15.39" fill="#ffffff"/>
<rect x="531.40" y="447.12" width="15.45" height="15.39" fill="#ffffff"/>
<rect x="546.80" y="447.12" width="15.45" height="15.39" fill="#dedfe1"/>
<rect x="562.20" y="447.12" width="15.45" height="15.39" fill="#f9f9fa"/>
<rect x="577.60" y="447.12" width="15.45" height="15.39" fill="#cacccf"/>
<rect x="593.00" y="447.12" width="15.45" height="15.39" fill="#d8d9dc"/>
<rect x="608.40" y="447.12" width="15.45" height="15.39" fill="#fffcfd"/>
<rect x="623.80" y="447.12" width="15.45" height="15.39" fill="#fbfbfb"/>
<rect x="531.40" y="462.46" width="15.45" height="15.39" fill="#fde7ef"/>
<rect x="546.80" y="462.46" width="15.45" height="15.39" fill="#fcdbe6"/>
<rect x="562.20" y="462.46" width="15.45" height="15.39" fill="#fcdee8"/>
<rect x="577.60" y="462.46" width="15.45" height="15.39" fill="#fbd3e0"/>
<rect x="593.00" y="462.46" width="15.45" height="15.39" fill="#fad0de"/>
<rect x="608.40" y="462.46" width="15.45" height="15.39" fill="#bcbec3"/>
<rect x="623.80" y="462.46" width="15.45" height="15.39" fill="#fbd8e4"/>
<rect x="531.40" y="477.80" width="15.45" height="15.39" fill="#ffffff"/>
<rect x="546.80" y="477.80" width="15.45" height="15.39" fill="#ffffff"/>
<rect x="562.20" y="477.80" width="15.45" height="15.39" fill="#ebeced"/>
<rect x="577.60" y="477.80" width="15.45" height="15.39" fill="#eff0f1"/>
<rect x="593.00" y="477.80" width="15.45" height="15.39" fill="#ffffff"/>
<rect x="608.40" y="477.80" width="15.45" height="15.39" fill="#ffffff"/>
<rect x="623.80" y="477.80" width="15.45" height="15.39" fill="#f7f7f8"/>
<rect x="531.40" y="493.14" width="15.45" height="15.39" fill="#ffffff"/>
<rect x="546.80" y="493.14" width="15.45" height="15.39" fill="#ffffff"/>
<rect x="562.20" y="493.14" width="15.45" height="15.39" fill="#fef9fb"/>
<rect x="577.60" y="493.14" width="15.45" height="15.39" fill="#fef9fb"/>
<rect x="593.00" y="493.14" width="15.45" height="15.39" fill="#fffcfd"/>
<rect x="608.40" y="493.14" width="15.45" height="15.39" fill="#ffffff"/>
<rect x="623.80" y="493.14" width="15.45" height="15.39" fill="#fef4f7"/>
<rect x="531.40" y="508.48" width="15.45" height="15.39" fill="#fbfbfb"/>
<rect x="546.80" y="508.48" width="15.45" height="15.39" fill="#ffffff"/>
<rect x="562.20" y="508.48" width="15.45" height="15.39" fill="#fbfbfb"/>
<rect x="577.60" y="508.48" width="15.45" height="15.39" fill="#fbfbfb"/>
<rect x="593.00" y="508.48" width="15.45" height="15.39" fill="#fffdfe"/>
<rect x="608.40" y="508.48" width="15.45" height="15.39" fill="#e5e6e8"/>
<rect x="623.80" y="508.48" width="15.45" height="15.39" fill="#ffffff"/>
<rect x="531.40" y="523.82" width="15.45" height="15.39" fill="#fef7fa"/>
<rect x="546.80" y="523.82" width="15.45" height="15.39" fill="#fcdbe6"/>
<rect x="562.20" y="523.82" width="15.45" height="15.39" fill="#fef9fb"/>
<rect x="577.60" y="523.82" width="15.45" height="15.39" fill="#fdecf2"/>
<rect x="593.00" y="523.82" width="15.45" height="15.39" fill="#fef7fa"/>
<rect x="608.40" y="523.82" width="15.45" height="15.39" fill="#fef4f7"/>
<rect x="623.80" y="523.82" width="15.45" height="15.39" fill="#fdebf1"/>
<rect x="531.40" y="539.16" width="15.45" height="15.39" fill="#e1e2e4"/>
<rect x="546.80" y="539.16" width="15.45" height="15.39" fill="#ffffff"/>
<rect x="562.20" y="539.16" width="15.45" height="15.39" fill="#ffffff"/>
<rect x="577.60" y="539.16" width="15.45" height="15.39" fill="#cacccf"/>
<rect x="593.00" y="539.16" width="15.45" height="15.39" fill="#ffffff"/>
<rect x="608.40" y="539.16" width="15.45" height="15.39" fill="#ffffff"/>
<rect x="623.80" y="539.16" width="15.45" height="15.39" fill="#ffffff"/>
<rect x="531.40" y="554.50" width="15.45" height="15.39" fill="#fef4f7"/>
<rect x="546.80" y="554.50" width="15.45" height="15.39" fill="#fef6f8"/>
<rect x="562.20" y="554.50" width="15.45" height="15.39" fill="#fef7fa"/>
<rect x="577.60" y="554.50" width="15.45" height="15.39" fill="#fef7fa"/>
<rect x="593.00" y="554.50" width="15.45" height="15.39" fill="#fef4f7"/>
<rect x="608.40" y="554.50" width="15.45" height="15.39" fill="#e9eaec"/>
<rect x="623.80" y="554.50" width="15.45" height="15.39" fill="#fef4f7"/>
<rect x="531.40" y="569.84" width="15.45" height="15.39" fill="#fffdfe"/>
<rect x="546.80" y="569.84" width="15.45" height="15.39" fill="#facedd"/>
<rect x="562.20" y="569.84" width="15.45" height="15.39" fill="#fffafc"/>
<rect x="577.60" y="569.84" width="15.45" height="15.39" fill="#fdebf1"/>
<rect x="593.00" y="569.84" width="15.45" height="15.39" fill="#fbd3e0"/>
<rect x="608.40" y="569.84" width="15.45" height="15.39" fill="#a2a6ac"/>
<rect x="623.80" y="569.84" width="15.45" height="15.39" fill="#fffdfe"/>
<rect x="531.40" y="585.18" width="15.45" height="15.39" fill="#c6c8cc"/>
<rect x="546.80" y="585.18" width="15.45" height="15.39" fill="#ffffff"/>
<rect x="562.20" y="585.18" width="15.45" height="15.39" fill="#ffffff"/>
<rect x="577.60" y="585.18" width="15.45" height="15.39" fill="#fffdfe"/>
<rect x="593.00" y="585.18" width="15.45" height="15.39" fill="#fffafc"/>
<rect x="608.40" y="585.18" width="15.45" height="15.39" fill="#fffafc"/>
<rect x="623.80" y="585.18" width="15.45" height="15.39" fill="#ffffff"/>
<rect x="531.40" y="600.52" width="15.45" height="15.39" fill="#e1e2e4"/>
<rect x="546.80" y="600.52" width="15.45" height="15.39" fill="#f1f2f3"/>
<rect x="562.20" y="600.52" width="15.45" height="15.39" fill="#fffafc"/>
<rect x="577.60" y="600.52" width="15.45" height="15.39" fill="#ffffff"/>
<rect x="593.00" y="600.52" width="15.45" height="15.39" fill="#fffdfe"/>
<rect x="608.40" y="600.52" width="15.45" height="15.39" fill="#e5e6e8"/>
<rect x="623.80" y="600.52" width="15.45" height="15.39" fill="#fef9fb"/>
<rect x="531.40" y="615.86" width="15.45" height="15.39" fill="#e7e8ea"/>
<rect x="546.80" y="615.86" width="15.45" height="15.39" fill="#ffffff"/>
<rect x="562.20" y="615.86" width="15.45" height="15.39" fill="#fbfbfb"/>
<rect x="577.60" y="615.86" width="15.45" height="15.39" fill="#ffffff"/>
<rect x="593.00" y="615.86" width="15.45" height="15.39" fill="#fffdfe"/>
<rect x="608.40" y="615.86" width="15.45" height="15.39" fill="#ffffff"/>
<rect x="623.80" y="615.86" width="15.45" height="15.39" fill="#fffdfe"/>
<rect x="531.40" y="631.20" width="15.45" height="15.39" fill="#f3f4f4"/>
<rect x="546.80" y="631.20" width="15.45" height="15.39" fill="#ffffff"/>
<rect x="562.20" y="631.20" width="15.45" height="15.39" fill="#f3f4f4"/>
<rect x="577.60" y="631.20" width="15.45" height="15.39" fill="#ffffff"/>
<rect x="593.00" y="631.20" width="15.45" height="15.39" fill="#ffffff"/>
<rect x="608.40" y="631.20" width="15.45" height="15.39" fill="#ffffff"/>
<rect x="623.80" y="631.20" width="15.45" height="15.39" fill="#ffffff"/>
<rect x="531.40" y="646.54" width="15.45" height="15.39" fill="#ffffff"/>
<rect x="546.80" y="646.54" width="15.45" height="15.39" fill="#fce4ec"/>
<rect x="562.20" y="646.54" width="15.45" height="15.39" fill="#f27aa2"/>
<rect x="577.60" y="646.54" width="15.45" height="15.39" fill="#f6a1be"/>
<rect x="593.00" y="646.54" width="15.45" height="15.39" fill="#f16f9b"/>
<rect x="608.40" y="646.54" width="15.45" height="15.39" fill="#f597b7"/>
<rect x="623.80" y="646.54" width="15.45" height="15.39" fill="#ffffff"/>
<rect x="531.40" y="661.88" width="15.45" height="15.39" fill="#ffffff"/>
<rect x="546.80" y="661.88" width="15.45" height="15.39" fill="#c4c6ca"/>
<rect x="562.20" y="661.88" width="15.45" height="15.39" fill="#fffcfd"/>
<rect x="577.60" y="661.88" width="15.45" height="15.39" fill="#d8d9dc"/>
<rect x="593.00" y="661.88" width="15.45" height="15.39" fill="#ffffff"/>
<rect x="608.40" y="661.88" width="15.45" height="15.39" fill="#f5f6f6"/>
<rect x="623.80" y="661.88" width="15.45" height="15.39" fill="#fef2f6"/>
<rect x="531.40" y="677.22" width="15.45" height="15.39" fill="#f5f6f6"/>
<rect x="546.80" y="677.22" width="15.45" height="15.39" fill="#ffffff"/>
<rect x="562.20" y="677.22" width="15.45" height="15.39" fill="#ffffff"/>
<rect x="577.60" y="677.22" width="15.45" height="15.39" fill="#ffffff"/>
<rect x="593.00" y="677.22" width="15.45" height="15.39" fill="#fffdfe"/>
<rect x="608.40" y="677.22" width="15.45" height="15.39" fill="#ffffff"/>
<rect x="623.80" y="677.22" width="15.45" height="15.39" fill="#ffffff"/>
<line x1="546.80" y1="401.10" x2="546.80" y2="692.56" stroke="rgba(60,60,60,0.42)" stroke-width="1"/>
<line x1="562.20" y1="401.10" x2="562.20" y2="692.56" stroke="rgba(60,60,60,0.42)" stroke-width="1"/>
<line x1="577.60" y1="401.10" x2="577.60" y2="692.56" stroke="rgba(60,60,60,0.42)" stroke-width="1"/>
<line x1="593.00" y1="401.10" x2="593.00" y2="692.56" stroke="rgba(60,60,60,0.42)" stroke-width="1"/>
<line x1="608.40" y1="401.10" x2="608.40" y2="692.56" stroke="rgba(60,60,60,0.42)" stroke-width="1"/>
<line x1="623.80" y1="401.10" x2="623.80" y2="692.56" stroke="rgba(60,60,60,0.42)" stroke-width="1"/>
<line x1="531.40" y1="416.44" x2="639.20" y2="416.44" stroke="rgba(60,60,60,0.42)" stroke-width="1"/>
<line x1="531.40" y1="431.78" x2="639.20" y2="431.78" stroke="rgba(60,60,60,0.42)" stroke-width="1"/>
<line x1="531.40" y1="447.12" x2="639.20" y2="447.12" stroke="rgba(60,60,60,0.42)" stroke-width="1"/>
<line x1="531.40" y1="462.46" x2="639.20" y2="462.46" stroke="rgba(60,60,60,0.42)" stroke-width="1"/>
<line x1="531.40" y1="477.80" x2="639.20" y2="477.80" stroke="rgba(60,60,60,0.42)" stroke-width="1"/>
<line x1="531.40" y1="493.14" x2="639.20" y2="493.14" stroke="rgba(60,60,60,0.42)" stroke-width="1"/>
<line x1="531.40" y1="508.48" x2="639.20" y2="508.48" stroke="rgba(60,60,60,0.42)" stroke-width="1"/>
<line x1="531.40" y1="523.82" x2="639.20" y2="523.82" stroke="rgba(60,60,60,0.42)" stroke-width="1"/>
<line x1="531.40" y1="539.16" x2="639.20" y2="539.16" stroke="rgba(60,60,60,0.42)" stroke-width="1"/>
<line x1="531.40" y1="554.50" x2="639.20" y2="554.50" stroke="rgba(60,60,60,0.42)" stroke-width="1"/>
<line x1="531.40" y1="569.84" x2="639.20" y2="569.84" stroke="rgba(60,60,60,0.42)" stroke-width="1"/>
<line x1="531.40" y1="585.18" x2="639.20" y2="585.18" stroke="rgba(60,60,60,0.42)" stroke-width="1"/>
<line x1="531.40" y1="600.52" x2="639.20" y2="600.52" stroke="rgba(60,60,60,0.42)" stroke-width="1"/>
<line x1="531.40" y1="615.86" x2="639.20" y2="615.86" stroke="rgba(60,60,60,0.42)" stroke-width="1"/>
<line x1="531.40" y1="631.20" x2="639.20" y2="631.20" stroke="rgba(60,60,60,0.42)" stroke-width="1"/>
<line x1="531.40" y1="646.54" x2="639.20" y2="646.54" stroke="rgba(60,60,60,0.42)" stroke-width="1"/>
<line x1="531.40" y1="661.88" x2="639.20" y2="661.88" stroke="rgba(60,60,60,0.42)" stroke-width="1"/>
<line x1="531.40" y1="677.22" x2="639.20" y2="677.22" stroke="rgba(60,60,60,0.42)" stroke-width="1"/>
<line x1="531.40" y1="646.54" x2="546.80" y2="661.88" stroke="#555" stroke-width="0.8"/>
<line x1="546.80" y1="646.54" x2="531.40" y2="661.88" stroke="#555" stroke-width="0.8"/>
<line x1="623.80" y1="646.54" x2="639.20" y2="661.88" stroke="#555" stroke-width="0.8"/>
<line x1="639.20" y1="646.54" x2="623.80" y2="661.88" stroke="#555" stroke-width="0.8"/>
<rect x="531.40" y="401.10" width="107.80" height="291.46" fill="none" stroke="#6a6a6a" stroke-width="1.1"/>
<line x1="484.02" y1="408.77" x2="488.02" y2="408.77" stroke="#444" stroke-width="0.9"/>
<line x1="484.02" y1="424.11" x2="488.02" y2="424.11" stroke="#444" stroke-width="0.9"/>
<line x1="484.02" y1="439.45" x2="488.02" y2="439.45" stroke="#444" stroke-width="0.9"/>
<line x1="484.02" y1="454.79" x2="488.02" y2="454.79" stroke="#444" stroke-width="0.9"/>
<line x1="484.02" y1="470.13" x2="488.02" y2="470.13" stroke="#444" stroke-width="0.9"/>
<line x1="484.02" y1="485.47" x2="488.02" y2="485.47" stroke="#444" stroke-width="0.9"/>
<line x1="484.02" y1="500.81" x2="488.02" y2="500.81" stroke="#444" stroke-width="0.9"/>
<line x1="484.02" y1="516.15" x2="488.02" y2="516.15" stroke="#444" stroke-width="0.9"/>
<line x1="484.02" y1="531.49" x2="488.02" y2="531.49" stroke="#444" stroke-width="0.9"/>
<line x1="484.02" y1="546.83" x2="488.02" y2="546.83" stroke="#444" stroke-width="0.9"/>
<line x1="484.02" y1="562.17" x2="488.02" y2="562.17" stroke="#444" stroke-width="0.9"/>
<line x1="484.02" y1="577.51" x2="488.02" y2="577.51" stroke="#444" stroke-width="0.9"/>
<line x1="484.02" y1="592.85" x2="488.02" y2="592.85" stroke="#444" stroke-width="0.9"/>
<line x1="484.02" y1="608.19" x2="488.02" y2="608.19" stroke="#444" stroke-width="0.9"/>
<line x1="484.02" y1="623.53" x2="488.02" y2="623.53" stroke="#444" stroke-width="0.9"/>
<line x1="484.02" y1="638.87" x2="488.02" y2="638.87" stroke="#444" stroke-width="0.9"/>
<line x1="484.02" y1="654.21" x2="488.02" y2="654.21" stroke="#444" stroke-width="0.9"/>
<line x1="484.02" y1="669.55" x2="488.02" y2="669.55" stroke="#444" stroke-width="0.9"/>
<line x1="484.02" y1="684.89" x2="488.02" y2="684.89" stroke="#444" stroke-width="0.9"/>
<line x1="527.40" y1="408.77" x2="531.40" y2="408.77" stroke="#444" stroke-width="0.9"/>
<line x1="527.40" y1="424.11" x2="531.40" y2="424.11" stroke="#444" stroke-width="0.9"/>
<line x1="527.40" y1="439.45" x2="531.40" y2="439.45" stroke="#444" stroke-width="0.9"/>
<line x1="527.40" y1="454.79" x2="531.40" y2="454.79" stroke="#444" stroke-width="0.9"/>
<line x1="527.40" y1="470.13" x2="531.40" y2="470.13" stroke="#444" stroke-width="0.9"/>
<line x1="527.40" y1="485.47" x2="531.40" y2="485.47" stroke="#444" stroke-width="0.9"/>
<line x1="527.40" y1="500.81" x2="531.40" y2="500.81" stroke="#444" stroke-width="0.9"/>
<line x1="527.40" y1="516.15" x2="531.40" y2="516.15" stroke="#444" stroke-width="0.9"/>
<line x1="527.40" y1="531.49" x2="531.40" y2="531.49" stroke="#444" stroke-width="0.9"/>
<line x1="527.40" y1="546.83" x2="531.40" y2="546.83" stroke="#444" stroke-width="0.9"/>
<line x1="527.40" y1="562.17" x2="531.40" y2="562.17" stroke="#444" stroke-width="0.9"/>
<line x1="527.40" y1="577.51" x2="531.40" y2="577.51" stroke="#444" stroke-width="0.9"/>
<line x1="527.40" y1="592.85" x2="531.40" y2="592.85" stroke="#444" stroke-width="0.9"/>
<line x1="527.40" y1="608.19" x2="531.40" y2="608.19" stroke="#444" stroke-width="0.9"/>
<line x1="527.40" y1="623.53" x2="531.40" y2="623.53" stroke="#444" stroke-width="0.9"/>
<line x1="527.40" y1="638.87" x2="531.40" y2="638.87" stroke="#444" stroke-width="0.9"/>
<line x1="527.40" y1="654.21" x2="531.40" y2="654.21" stroke="#444" stroke-width="0.9"/>
<line x1="527.40" y1="669.55" x2="531.40" y2="669.55" stroke="#444" stroke-width="0.9"/>
<line x1="527.40" y1="684.89" x2="531.40" y2="684.89" stroke="#444" stroke-width="0.9"/>
<text x="508.50" y="411.07" font-size="9" text-anchor="middle" font-style="italic" stroke="#2b2b2b" stroke-width="0.18">Akt1</text>
<text x="508.50" y="426.41" font-size="9" text-anchor="middle" font-style="italic" stroke="#2b2b2b" stroke-width="0.18">Appl1</text>
<text x="508.50" y="441.75" font-size="9" text-anchor="middle" font-style="italic" stroke="#2b2b2b" stroke-width="0.18">Cdh1</text>
<text x="508.50" y="457.09" font-size="9" text-anchor="middle" font-style="italic" stroke="#2b2b2b" stroke-width="0.18">Cdh2</text>
<text x="508.50" y="472.43" font-size="9" text-anchor="middle" font-style="italic" stroke="#2b2b2b" stroke-width="0.18">Crebbp</text>
<text x="508.50" y="487.77" font-size="9" text-anchor="middle" font-style="italic" stroke="#2b2b2b" stroke-width="0.18">Csnk2a1</text>
<text x="508.50" y="503.11" font-size="9" text-anchor="middle" font-style="italic" stroke="#2b2b2b" stroke-width="0.18">Gsk3a</text>
<text x="508.50" y="518.45" font-size="9" text-anchor="middle" font-style="italic" stroke="#2b2b2b" stroke-width="0.18">Gsk3b</text>
<text x="508.50" y="533.79" font-size="9" text-anchor="middle" font-style="italic" stroke="#2b2b2b" stroke-width="0.18">Hnf1a</text>
<text x="508.50" y="549.13" font-size="9" text-anchor="middle" font-style="italic" stroke="#2b2b2b" stroke-width="0.18">Lrp1</text>
<text x="508.50" y="564.47" font-size="9" text-anchor="middle" font-style="italic" stroke="#2b2b2b" stroke-width="0.18">Mark2</text>
<text x="508.50" y="579.81" font-size="9" text-anchor="middle" font-style="italic" stroke="#2b2b2b" stroke-width="0.18">Ppm1l</text>
<text x="508.50" y="595.15" font-size="9" text-anchor="middle" font-style="italic" stroke="#2b2b2b" stroke-width="0.18">Ppp2ca</text>
<text x="508.50" y="610.49" font-size="9" text-anchor="middle" font-style="italic" stroke="#2b2b2b" stroke-width="0.18">Ppp2r5a</text>
<text x="508.50" y="625.83" font-size="9" text-anchor="middle" font-style="italic" stroke="#2b2b2b" stroke-width="0.18">Rps27a</text>
<text x="508.50" y="641.17" font-size="9" text-anchor="middle" font-style="italic" stroke="#2b2b2b" stroke-width="0.18">Ruvbl2</text>
<text x="508.50" y="656.51" font-size="9" text-anchor="middle" font-style="italic" stroke="#2b2b2b" stroke-width="0.18">Tgfbr2</text>
<text x="508.50" y="671.85" font-size="9" text-anchor="middle" font-style="italic" stroke="#2b2b2b" stroke-width="0.18">Tle3</text>
<text x="508.50" y="687.19" font-size="9" text-anchor="middle" font-style="italic" stroke="#2b2b2b" stroke-width="0.18">Ubc</text>
<rect x="391.20" y="697.00" width="15.52" height="15.65" fill="#e8f4fd"/>
<rect x="406.67" y="697.00" width="15.52" height="15.65" fill="#fee2c8"/>
<rect x="422.14" y="697.00" width="15.52" height="15.65" fill="#e8f4fd"/>
<rect x="437.61" y="697.00" width="15.52" height="15.65" fill="#bde0fa"/>
<rect x="453.08" y="697.00" width="15.52" height="15.65" fill="#ffab5e"/>
<rect x="468.55" y="697.00" width="15.52" height="15.65" fill="#ff8000"/>
<line x1="406.67" y1="697.00" x2="406.67" y2="712.60" stroke="rgba(60,60,60,0.42)" stroke-width="1"/>
<line x1="422.14" y1="697.00" x2="422.14" y2="712.60" stroke="rgba(60,60,60,0.42)" stroke-width="1"/>
<line x1="437.61" y1="697.00" x2="437.61" y2="712.60" stroke="rgba(60,60,60,0.42)" stroke-width="1"/>
<line x1="453.08" y1="697.00" x2="453.08" y2="712.60" stroke="rgba(60,60,60,0.42)" stroke-width="1"/>
<line x1="468.55" y1="697.00" x2="468.55" y2="712.60" stroke="rgba(60,60,60,0.42)" stroke-width="1"/>
<rect x="391.20" y="697.00" width="92.82" height="15.60" fill="none" stroke="#6a6a6a" stroke-width="1.1"/>
<rect x="531.40" y="697.00" width="15.45" height="15.65" fill="#ff9a33"/>
<rect x="546.80" y="697.00" width="15.45" height="15.65" fill="#1a8fef"/>
<rect x="562.20" y="697.00" width="15.45" height="15.65" fill="#94ccf6"/>
<rect x="577.60" y="697.00" width="15.45" height="15.65" fill="#e6f4fe"/>
<rect x="593.00" y="697.00" width="15.45" height="15.65" fill="#cde8fb"/>
<rect x="608.40" y="697.00" width="15.45" height="15.65" fill="#94ccf6"/>
<rect x="623.80" y="697.00" width="15.45" height="15.65" fill="#7cc1f4"/>
<line x1="546.80" y1="697.00" x2="546.80" y2="712.60" stroke="rgba(60,60,60,0.42)" stroke-width="1"/>
<line x1="562.20" y1="697.00" x2="562.20" y2="712.60" stroke="rgba(60,60,60,0.42)" stroke-width="1"/>
<line x1="577.60" y1="697.00" x2="577.60" y2="712.60" stroke="rgba(60,60,60,0.42)" stroke-width="1"/>
<line x1="593.00" y1="697.00" x2="593.00" y2="712.60" stroke="rgba(60,60,60,0.42)" stroke-width="1"/>
<line x1="608.40" y1="697.00" x2="608.40" y2="712.60" stroke="rgba(60,60,60,0.42)" stroke-width="1"/>
<line x1="623.80" y1="697.00" x2="623.80" y2="712.60" stroke="rgba(60,60,60,0.42)" stroke-width="1"/>
<rect x="531.40" y="697.00" width="107.80" height="15.60" fill="none" stroke="#6a6a6a" stroke-width="1.1"/>
<line x1="484.02" y1="704.80" x2="488.02" y2="704.80" stroke="#444" stroke-width="0.9"/>
<line x1="527.40" y1="704.80" x2="531.40" y2="704.80" stroke="#444" stroke-width="0.9"/>
<text x="509.50" y="707.30" font-size="9" text-anchor="middle" font-weight="bold" stroke="#2b2b2b" stroke-width="0.18">Z-score</text>
<defs><linearGradient id="g6" x1="0" y1="0" x2="0" y2="1"><stop offset="0" stop-color="#f06292"/><stop offset="0.6023" stop-color="#ffffff"/><stop offset="1" stop-color="#3a414e"/></linearGradient></defs>
<rect x="373.80" y="401.10" width="14.00" height="291.40" fill="url(#g6)" stroke="#6a6a6a" stroke-width="1.1"/>
<line x1="373.80" y1="484.50" x2="375.80" y2="484.50" stroke="#444" stroke-width="0.9"/>
<line x1="385.80" y1="484.50" x2="387.80" y2="484.50" stroke="#444" stroke-width="0.9"/>
<line x1="373.80" y1="576.60" x2="375.80" y2="576.60" stroke="#444" stroke-width="0.9"/>
<line x1="385.80" y1="576.60" x2="387.80" y2="576.60" stroke="#444" stroke-width="0.9"/>
<line x1="373.80" y1="668.50" x2="375.80" y2="668.50" stroke="#444" stroke-width="0.9"/>
<line x1="385.80" y1="668.50" x2="387.80" y2="668.50" stroke="#444" stroke-width="0.9"/>
<text x="369.40" y="487.70" font-size="9" text-anchor="end" stroke="#2b2b2b" stroke-width="0.18">2</text>
<text x="369.40" y="579.80" font-size="9" text-anchor="end" stroke="#2b2b2b" stroke-width="0.18">0</text>
<text x="369.40" y="671.70" font-size="9" text-anchor="end" stroke="#2b2b2b" stroke-width="0.18">-2</text>
<text transform="translate(357.80,546.50) rotate(-90)" font-size="9" text-anchor="middle" stroke="#2b2b2b" stroke-width="0.18">log(2) fold change</text>
<defs><linearGradient id="g7" x1="0" y1="0" x2="0" y2="1"><stop offset="0" stop-color="#f06292"/><stop offset="0.7797" stop-color="#ffffff"/><stop offset="1" stop-color="#3a414e"/></linearGradient></defs>
<rect x="642.40" y="401.10" width="14.30" height="291.40" fill="url(#g7)" stroke="#6a6a6a" stroke-width="1.1"/>
<line x1="642.40" y1="431.70" x2="644.40" y2="431.70" stroke="#444" stroke-width="0.9"/>
<line x1="654.70" y1="431.70" x2="656.70" y2="431.70" stroke="#444" stroke-width="0.9"/>
<line x1="642.40" y1="497.20" x2="644.40" y2="497.20" stroke="#444" stroke-width="0.9"/>
<line x1="654.70" y1="497.20" x2="656.70" y2="497.20" stroke="#444" stroke-width="0.9"/>
<line x1="642.40" y1="562.80" x2="644.40" y2="562.80" stroke="#444" stroke-width="0.9"/>
<line x1="654.70" y1="562.80" x2="656.70" y2="562.80" stroke="#444" stroke-width="0.9"/>
<line x1="642.40" y1="628.30" x2="644.40" y2="628.30" stroke="#444" stroke-width="0.9"/>
<line x1="654.70" y1="628.30" x2="656.70" y2="628.30" stroke="#444" stroke-width="0.9"/>
<text x="661.30" y="434.90" font-size="9" stroke="#2b2b2b" stroke-width="0.18">6</text>
<text x="661.30" y="500.40" font-size="9" stroke="#2b2b2b" stroke-width="0.18">4</text>
<text x="661.30" y="566.00" font-size="9" stroke="#2b2b2b" stroke-width="0.18">2</text>
<text x="661.30" y="631.50" font-size="9" stroke="#2b2b2b" stroke-width="0.18">0</text>
<text transform="translate(677.30,546.50) rotate(-90)" font-size="9" text-anchor="middle" stroke="#2b2b2b" stroke-width="0.18">log(2) fold change</text>
<defs><linearGradient id="g8" x1="0" y1="0" x2="1" y2="0"><stop offset="0" stop-color="#1e90e8"/><stop offset="0.4810" stop-color="#ffffff"/><stop offset="1" stop-color="#ff7f0e"/></linearGradient></defs>
<rect x="391.00" y="718.40" width="247.80" height="14.40" fill="url(#g8)" stroke="#6a6a6a" stroke-width="1.1"/>
<line x1="405.80" y1="718.40" x2="405.80" y2="720.60" stroke="#444" stroke-width="0.9"/>
<line x1="405.80" y1="730.60" x2="405.80" y2="732.80" stroke="#444" stroke-width="0.9"/>
<text x="405.80" y="744.10" font-size="9" text-anchor="middle" stroke="#2b2b2b" stroke-width="0.18">-2</text>
<line x1="457.60" y1="718.40" x2="457.60" y2="720.60" stroke="#444" stroke-width="0.9"/>
<line x1="457.60" y1="730.60" x2="457.60" y2="732.80" stroke="#444" stroke-width="0.9"/>
<text x="457.60" y="744.10" font-size="9" text-anchor="middle" stroke="#2b2b2b" stroke-width="0.18">-1</text>
<line x1="510.20" y1="718.40" x2="510.20" y2="720.60" stroke="#444" stroke-width="0.9"/>
<line x1="510.20" y1="730.60" x2="510.20" y2="732.80" stroke="#444" stroke-width="0.9"/>
<text x="510.20" y="744.10" font-size="9" text-anchor="middle" stroke="#2b2b2b" stroke-width="0.18">0</text>
<line x1="562.60" y1="718.40" x2="562.60" y2="720.60" stroke="#444" stroke-width="0.9"/>
<line x1="562.60" y1="730.60" x2="562.60" y2="732.80" stroke="#444" stroke-width="0.9"/>
<text x="562.60" y="744.10" font-size="9" text-anchor="middle" stroke="#2b2b2b" stroke-width="0.18">1</text>
<line x1="614.80" y1="718.40" x2="614.80" y2="720.60" stroke="#444" stroke-width="0.9"/>
<line x1="614.80" y1="730.60" x2="614.80" y2="732.80" stroke="#444" stroke-width="0.9"/>
<text x="614.80" y="744.10" font-size="9" text-anchor="middle" stroke="#2b2b2b" stroke-width="0.18">2</text>
<text x="505.80" y="755.50" font-size="9" text-anchor="middle" stroke="#2b2b2b" stroke-width="0.18">log(2) Z-score</text>
<text x="390.50" y="773.70" font-size="9" font-weight="bold" stroke="#2b2b2b" stroke-width="0.18">Legend</text>
<text x="390.50" y="785.00" font-size="9.15" stroke="#2b2b2b" stroke-width="0.18">more extreme</text>
<text x="507.30" y="785.00" font-size="9" stroke="#2b2b2b" stroke-width="0.18">less</text>
<text x="531.60" y="785.00" font-size="9.15" stroke="#2b2b2b" stroke-width="0.18">more confidence</text>
<text x="648.40" y="785.00" font-size="9" stroke="#2b2b2b" stroke-width="0.18">less</text>
<rect x="390.80" y="788.10" width="6" height="9" fill="#ff7f0e"/>
<rect x="390.80" y="801.40" width="6" height="9" fill="#1e90e8"/>
<text x="403.40" y="796.00" font-size="9.15" stroke="#2b2b2b" stroke-width="0.18">Predicted activation</text>
<text x="403.40" y="810.00" font-size="9.15" stroke="#2b2b2b" stroke-width="0.18">Predicted inhibition</text>
<rect x="516.30" y="788.10" width="6" height="9" fill="#fddcbc" stroke="#bbb" stroke-width="0.7"/>
<rect x="516.30" y="801.40" width="6" height="9" fill="#dcecfb" stroke="#bbb" stroke-width="0.7"/>
<rect x="532.00" y="788.10" width="6" height="9" fill="#3a4152"/>
<rect x="532.00" y="801.20" width="6" height="9" fill="#ee5f8e"/>
<text x="544.60" y="796.00" font-size="9.15" stroke="#2b2b2b" stroke-width="0.18">Decreased measurement</text>
<text x="544.60" y="809.20" font-size="9.15" stroke="#2b2b2b" stroke-width="0.18">Increased measurement</text>
<rect x="657.50" y="788.10" width="6" height="9" fill="#dedfe2" stroke="#bbb" stroke-width="0.7"/>
<rect x="657.50" y="801.20" width="6" height="9" fill="#fcdde8" stroke="#bbb" stroke-width="0.7"/>
<rect x="532.2" y="814.4" width="5.8" height="9" fill="#fff" stroke="#333" stroke-width="0.8"/>
<line x1="532.20" y1="814.40" x2="538.00" y2="823.40" stroke="#333" stroke-width="0.7"/>
<line x1="538.00" y1="814.40" x2="532.20" y2="823.40" stroke="#333" stroke-width="0.7"/>
<text x="544.60" y="822.20" font-size="9.15" stroke="#2b2b2b" stroke-width="0.18">Not detectable</text>
<rect x="0" y="0" width="685" height="841" fill="none" stroke="#fafafa" stroke-width="3.2"/>
</svg></body></html>
